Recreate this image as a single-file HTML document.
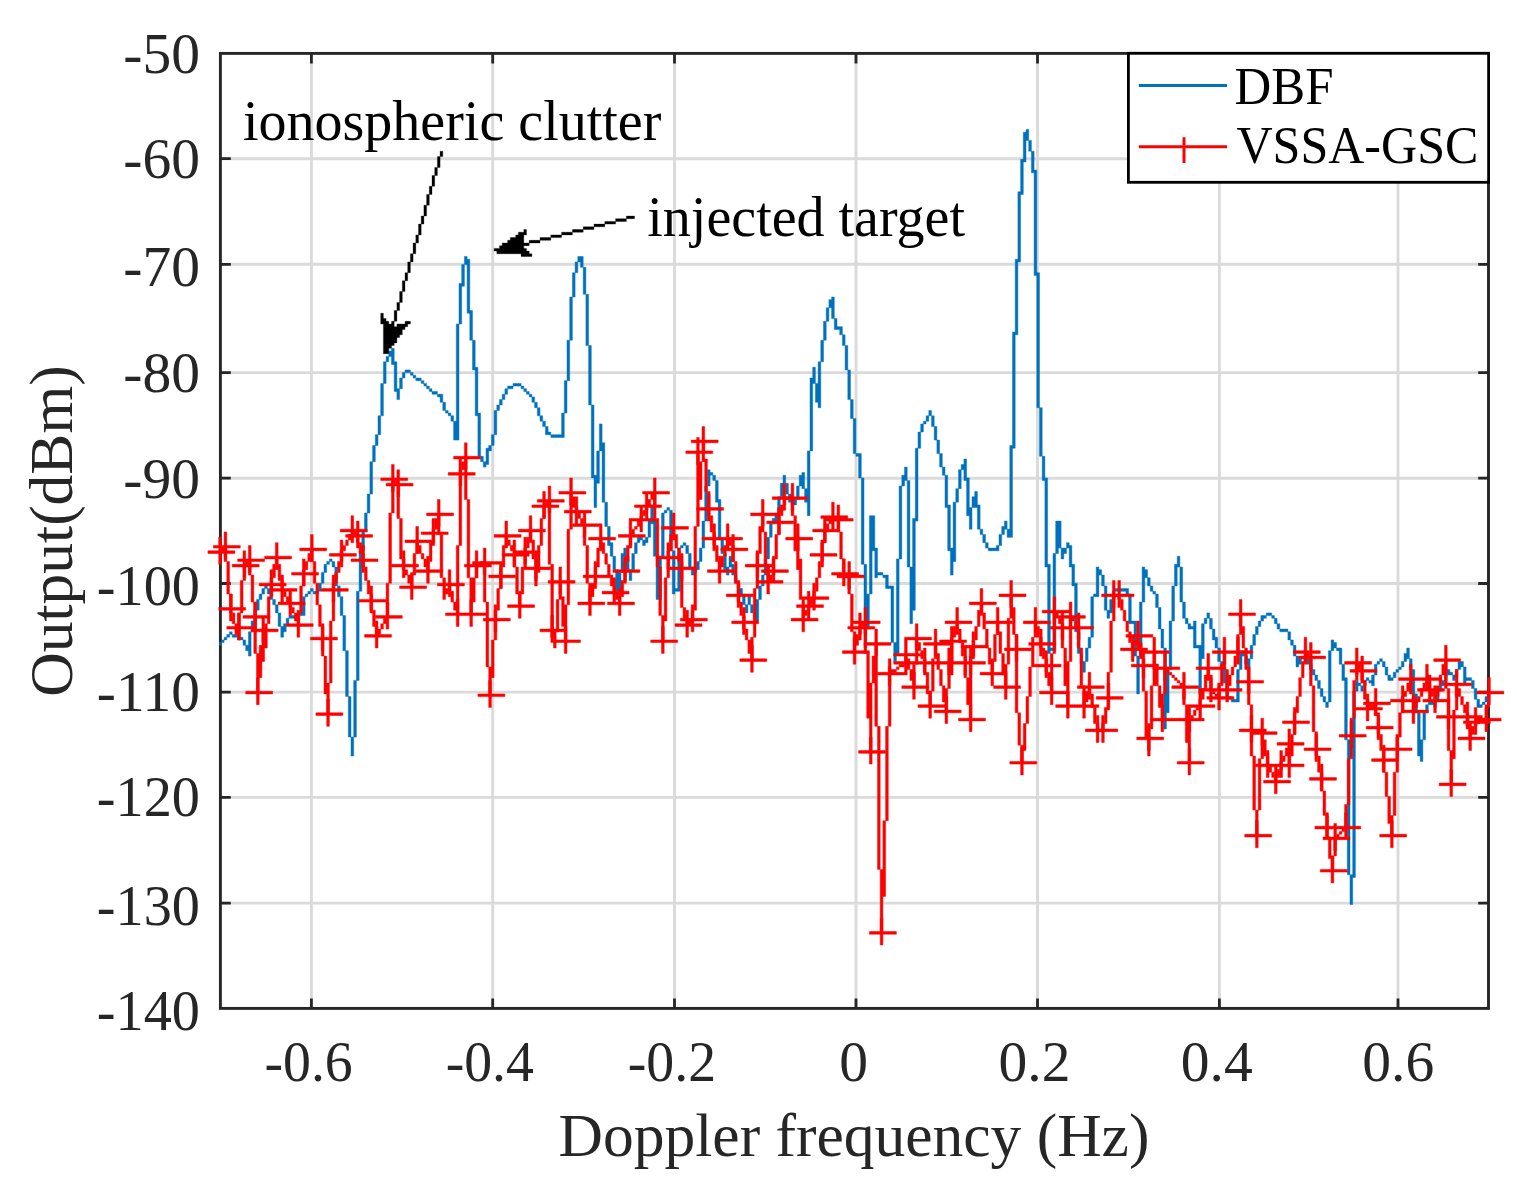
<!DOCTYPE html>
<html><head><meta charset="utf-8"><title>Doppler spectrum</title><style>html,body{margin:0;padding:0;background:#fff}svg{display:block}</style></head><body>
<svg width="1517" height="1179" viewBox="0 0 1517 1179">
<rect width="1517" height="1179" fill="#fff"/>
<path d="M311.4 53.4V1008.4M492.7 53.4V1008.4M674.5 53.4V1008.4M856.0 53.4V1008.4M1037.5 53.4V1008.4M1219.4 53.4V1008.4M1398.0 53.4V1008.4M220.4 158.7H1488.6M220.4 264.3H1488.6M220.4 372.6H1488.6M220.4 478.2H1488.6M220.4 583.5H1488.6M220.4 692.1H1488.6M220.4 797.4H1488.6M220.4 903.1H1488.6" stroke="#dadada" stroke-width="2.9" fill="none"/>
<path d="M311.4 1008.4v-10M311.4 53.4v10M492.7 1008.4v-10M492.7 53.4v10M674.5 1008.4v-10M674.5 53.4v10M856.0 1008.4v-10M856.0 53.4v10M1037.5 1008.4v-10M1037.5 53.4v10M1219.4 1008.4v-10M1219.4 53.4v10M1398.0 1008.4v-10M1398.0 53.4v10M220.4 158.7h10.4M1488.6 158.7h-10.4M220.4 264.3h10.4M1488.6 264.3h-10.4M220.4 372.6h10.4M1488.6 372.6h-10.4M220.4 478.2h10.4M1488.6 478.2h-10.4M220.4 583.5h10.4M1488.6 583.5h-10.4M220.4 692.1h10.4M1488.6 692.1h-10.4M220.4 797.4h10.4M1488.6 797.4h-10.4M220.4 903.1h10.4M1488.6 903.1h-10.4" stroke="#262626" stroke-width="2.8" fill="none"/>
<rect x="220.4" y="53.4" width="1268.1" height="955.0" stroke="#262626" stroke-width="2.9" fill="none"/>
<defs><clipPath id="c"><rect x="218.9" y="51.9" width="1271.1" height="958.0"/></clipPath></defs>
<g clip-path="url(#c)">
<path d="M218.7 642.6h2.7v2.7h-2.7zM221.4 639.9h2.7v2.7h-2.7zM224.1 637.2h2.7v2.7h-2.7zM226.8 634.5h2.7v2.7h-2.7zM229.5 631.8h2.7v2.7h-2.7zM232.2 634.5h2.7v2.7h-2.7zM234.9 634.5h2.7v2.7h-2.7zM237.6 637.2h2.7v2.7h-2.7zM240.3 637.2h2.7v2.7h-2.7zM243.0 639.9h2.7v5.4h-2.7zM245.7 645.3h2.7v5.4h-2.7zM248.4 631.8h2.7v24.3h-2.7zM251.1 621.0h2.7v10.8h-2.7zM253.8 610.2h2.7v10.8h-2.7zM256.5 599.4h2.7v10.8h-2.7zM259.2 594.0h2.7v5.4h-2.7zM261.9 588.6h2.7v5.4h-2.7zM264.6 585.9h2.7v2.7h-2.7zM267.3 588.6h2.7v5.4h-2.7zM270.0 594.0h2.7v5.4h-2.7zM272.7 599.4h2.7v5.4h-2.7zM275.4 604.8h2.7v8.1h-2.7zM278.1 612.9h2.7v13.5h-2.7zM280.8 626.4h2.7v10.8h-2.7zM283.5 623.7h2.7v8.1h-2.7zM286.2 618.3h2.7v5.4h-2.7zM288.9 615.6h2.7v2.7h-2.7zM291.6 615.6h2.7v2.7h-2.7zM294.3 615.6h2.7v2.7h-2.7zM297.0 615.6h2.7v2.7h-2.7zM299.7 612.9h2.7v2.7h-2.7zM302.4 596.7h2.7v18.9h-2.7zM305.1 594.0h2.7v2.7h-2.7zM307.8 591.3h2.7v2.7h-2.7zM310.5 588.6h2.7v2.7h-2.7zM313.2 591.3h2.7v2.7h-2.7zM315.9 591.3h2.7v2.7h-2.7zM318.6 583.2h2.7v8.1h-2.7zM321.3 572.4h2.7v10.8h-2.7zM324.0 564.3h2.7v8.1h-2.7zM326.7 561.6h2.7v2.7h-2.7zM329.4 558.9h2.7v2.7h-2.7zM332.1 561.6h2.7v5.4h-2.7zM334.8 567.0h2.7v18.9h-2.7zM337.5 585.9h2.7v10.8h-2.7zM340.2 596.7h2.7v18.9h-2.7zM342.9 615.6h2.7v35.1h-2.7zM345.6 650.7h2.7v45.9h-2.7zM348.3 696.6h2.7v40.5h-2.7zM351.0 737.1h2.7v18.9h-2.7zM353.7 680.4h2.7v56.7h-2.7zM356.4 591.3h2.7v89.1h-2.7zM359.1 550.8h2.7v40.5h-2.7zM361.8 531.9h2.7v18.9h-2.7zM364.5 513.0h2.7v18.9h-2.7zM367.2 494.1h2.7v18.9h-2.7zM369.9 461.7h2.7v32.4h-2.7zM372.6 445.5h2.7v16.2h-2.7zM375.3 434.7h2.7v10.8h-2.7zM378.0 415.8h2.7v18.9h-2.7zM380.7 383.4h2.7v32.4h-2.7zM383.4 361.8h2.7v21.6h-2.7zM386.1 356.4h2.7v5.4h-2.7zM388.8 351.0h2.7v5.4h-2.7zM391.5 348.3h2.7v16.2h-2.7zM394.2 361.8h2.7v29.7h-2.7zM396.9 388.8h2.7v10.8h-2.7zM399.6 378.0h2.7v10.8h-2.7zM402.3 372.6h2.7v5.4h-2.7zM405.0 369.9h2.7v2.7h-2.7zM407.7 369.9h2.7v2.7h-2.7zM410.4 372.6h2.7v2.7h-2.7zM413.1 375.3h2.7v2.7h-2.7zM415.8 378.0h2.7v2.7h-2.7zM418.5 378.0h2.7v2.7h-2.7zM421.2 380.7h2.7v2.7h-2.7zM423.9 383.4h2.7v2.7h-2.7zM426.6 386.1h2.7v2.7h-2.7zM429.3 388.8h2.7v2.7h-2.7zM432.0 391.5h2.7v2.7h-2.7zM434.7 391.5h2.7v2.7h-2.7zM437.4 394.2h2.7v2.7h-2.7zM440.1 394.2h2.7v8.1h-2.7zM442.8 402.3h2.7v8.1h-2.7zM445.5 410.4h2.7v2.7h-2.7zM448.2 413.1h2.7v2.7h-2.7zM450.9 415.8h2.7v5.4h-2.7zM453.6 421.2h2.7v18.9h-2.7zM456.3 324.0h2.7v116.1h-2.7zM459.0 283.5h2.7v40.5h-2.7zM461.7 264.6h2.7v21.6h-2.7zM464.4 256.5h2.7v8.1h-2.7zM467.1 259.2h2.7v54.0h-2.7zM469.8 310.5h2.7v29.7h-2.7zM472.5 340.2h2.7v29.7h-2.7zM475.2 367.2h2.7v48.6h-2.7zM477.9 413.1h2.7v43.2h-2.7zM480.6 456.3h2.7v5.4h-2.7zM483.3 461.7h2.7v5.4h-2.7zM486.0 448.2h2.7v16.2h-2.7zM488.7 445.5h2.7v5.4h-2.7zM491.4 434.7h2.7v10.8h-2.7zM494.1 410.4h2.7v24.3h-2.7zM496.8 405.0h2.7v5.4h-2.7zM499.5 399.6h2.7v5.4h-2.7zM502.2 394.2h2.7v5.4h-2.7zM504.9 388.8h2.7v5.4h-2.7zM507.6 386.1h2.7v2.7h-2.7zM510.3 386.1h2.7v2.7h-2.7zM513.0 383.4h2.7v2.7h-2.7zM515.7 383.4h2.7v2.7h-2.7zM518.4 383.4h2.7v2.7h-2.7zM521.1 386.1h2.7v2.7h-2.7zM523.8 388.8h2.7v2.7h-2.7zM526.5 391.5h2.7v2.7h-2.7zM529.2 394.2h2.7v2.7h-2.7zM531.9 396.9h2.7v5.4h-2.7zM534.6 402.3h2.7v5.4h-2.7zM537.3 407.7h2.7v8.1h-2.7zM540.0 415.8h2.7v5.4h-2.7zM542.7 421.2h2.7v5.4h-2.7zM545.4 426.6h2.7v8.1h-2.7zM548.1 432.0h2.7v2.7h-2.7zM550.8 434.7h2.7v2.7h-2.7zM553.5 434.7h2.7v2.7h-2.7zM556.2 434.7h2.7v2.7h-2.7zM558.9 434.7h2.7v2.7h-2.7zM561.6 413.1h2.7v24.3h-2.7zM564.3 380.7h2.7v32.4h-2.7zM567.0 340.2h2.7v40.5h-2.7zM569.7 297.0h2.7v43.2h-2.7zM572.4 272.7h2.7v24.3h-2.7zM575.1 261.9h2.7v10.8h-2.7zM577.8 256.5h2.7v5.4h-2.7zM580.5 256.5h2.7v10.8h-2.7zM583.2 267.3h2.7v27.0h-2.7zM585.9 294.3h2.7v51.3h-2.7zM588.6 345.6h2.7v59.4h-2.7zM591.3 405.0h2.7v72.9h-2.7zM594.0 475.2h2.7v32.4h-2.7zM596.7 450.9h2.7v32.4h-2.7zM599.4 423.9h2.7v27.0h-2.7zM602.1 442.8h2.7v59.4h-2.7zM604.8 502.2h2.7v24.3h-2.7zM607.5 526.5h2.7v18.9h-2.7zM610.2 542.7h2.7v13.5h-2.7zM612.9 556.2h2.7v13.5h-2.7zM615.6 569.7h2.7v21.6h-2.7zM618.3 572.4h2.7v18.9h-2.7zM621.0 553.5h2.7v18.9h-2.7zM623.7 548.1h2.7v8.1h-2.7zM626.4 556.2h2.7v13.5h-2.7zM629.1 569.7h2.7v10.8h-2.7zM631.8 553.5h2.7v16.2h-2.7zM634.5 542.7h2.7v10.8h-2.7zM637.2 537.3h2.7v5.4h-2.7zM639.9 537.3h2.7v2.7h-2.7zM642.6 540.0h2.7v5.4h-2.7zM645.3 537.3h2.7v5.4h-2.7zM648.0 521.1h2.7v16.2h-2.7zM650.7 504.9h2.7v18.9h-2.7zM653.4 521.1h2.7v35.1h-2.7zM656.1 556.2h2.7v43.2h-2.7zM658.8 556.2h2.7v43.2h-2.7zM661.5 513.0h2.7v43.2h-2.7zM664.2 510.3h2.7v2.7h-2.7zM666.9 507.6h2.7v2.7h-2.7zM669.6 510.3h2.7v40.5h-2.7zM672.3 550.8h2.7v43.2h-2.7zM675.0 588.6h2.7v2.7h-2.7zM677.7 548.1h2.7v43.2h-2.7zM680.4 545.4h2.7v2.7h-2.7zM683.1 542.7h2.7v2.7h-2.7zM685.8 545.4h2.7v8.1h-2.7zM688.5 553.5h2.7v13.5h-2.7zM691.2 567.0h2.7v8.1h-2.7zM693.9 569.7h2.7v2.7h-2.7zM696.6 561.6h2.7v8.1h-2.7zM699.3 548.1h2.7v13.5h-2.7zM702.0 521.1h2.7v27.0h-2.7zM704.7 486.0h2.7v35.1h-2.7zM707.4 469.8h2.7v16.2h-2.7zM710.1 472.5h2.7v2.7h-2.7zM712.8 475.2h2.7v5.4h-2.7zM715.5 480.6h2.7v21.6h-2.7zM718.2 499.5h2.7v40.5h-2.7zM720.9 540.0h2.7v13.5h-2.7zM723.6 553.5h2.7v16.2h-2.7zM726.3 567.0h2.7v8.1h-2.7zM729.0 556.2h2.7v10.8h-2.7zM731.7 564.3h2.7v10.8h-2.7zM734.4 575.1h2.7v8.1h-2.7zM737.1 583.2h2.7v5.4h-2.7zM739.8 588.6h2.7v5.4h-2.7zM742.5 594.0h2.7v10.8h-2.7zM745.2 604.8h2.7v8.1h-2.7zM747.9 596.7h2.7v8.1h-2.7zM750.6 604.8h2.7v8.1h-2.7zM753.3 612.9h2.7v5.4h-2.7zM756.0 599.4h2.7v21.6h-2.7zM758.7 585.9h2.7v13.5h-2.7zM761.4 575.1h2.7v10.8h-2.7zM764.1 558.9h2.7v16.2h-2.7zM766.8 537.3h2.7v21.6h-2.7zM769.5 523.8h2.7v13.5h-2.7zM772.2 518.4h2.7v5.4h-2.7zM774.9 513.0h2.7v8.1h-2.7zM777.6 496.8h2.7v16.2h-2.7zM780.3 483.3h2.7v13.5h-2.7zM783.0 475.2h2.7v8.1h-2.7zM785.7 483.3h2.7v10.8h-2.7zM788.4 494.1h2.7v8.1h-2.7zM791.1 502.2h2.7v2.7h-2.7zM793.8 499.5h2.7v5.4h-2.7zM796.5 486.0h2.7v13.5h-2.7zM799.2 475.2h2.7v10.8h-2.7zM801.9 472.5h2.7v16.2h-2.7zM804.6 488.7h2.7v13.5h-2.7zM807.3 450.9h2.7v64.8h-2.7zM810.0 378.0h2.7v72.9h-2.7zM812.7 367.2h2.7v16.2h-2.7zM815.4 383.4h2.7v18.9h-2.7zM818.1 361.8h2.7v45.9h-2.7zM820.8 340.2h2.7v21.6h-2.7zM823.5 321.3h2.7v18.9h-2.7zM826.2 307.8h2.7v13.5h-2.7zM828.9 299.7h2.7v8.1h-2.7zM831.6 297.0h2.7v21.6h-2.7zM834.3 318.6h2.7v10.8h-2.7zM837.0 326.7h2.7v2.7h-2.7zM839.7 326.7h2.7v8.1h-2.7zM842.4 334.8h2.7v10.8h-2.7zM845.1 345.6h2.7v24.3h-2.7zM847.8 369.9h2.7v29.7h-2.7zM850.5 399.6h2.7v18.9h-2.7zM853.2 418.5h2.7v35.1h-2.7zM855.9 453.6h2.7v2.7h-2.7zM858.6 453.6h2.7v24.3h-2.7zM861.3 477.9h2.7v86.4h-2.7zM864.0 564.3h2.7v83.7h-2.7zM866.7 594.0h2.7v35.1h-2.7zM869.4 515.7h2.7v78.3h-2.7zM872.1 515.7h2.7v35.1h-2.7zM874.8 548.1h2.7v29.7h-2.7zM877.5 572.4h2.7v2.7h-2.7zM880.2 572.4h2.7v2.7h-2.7zM882.9 575.1h2.7v2.7h-2.7zM885.6 575.1h2.7v13.5h-2.7zM888.3 585.9h2.7v2.7h-2.7zM891.0 585.9h2.7v56.7h-2.7zM893.7 642.6h2.7v18.9h-2.7zM896.4 558.9h2.7v94.5h-2.7zM899.1 486.0h2.7v72.9h-2.7zM901.8 475.2h2.7v10.8h-2.7zM904.5 467.1h2.7v13.5h-2.7zM907.2 480.6h2.7v86.4h-2.7zM909.9 567.0h2.7v56.7h-2.7zM912.6 518.4h2.7v91.8h-2.7zM915.3 448.2h2.7v72.9h-2.7zM918.0 432.0h2.7v16.2h-2.7zM920.7 423.9h2.7v8.1h-2.7zM923.4 421.2h2.7v2.7h-2.7zM926.1 415.8h2.7v5.4h-2.7zM928.8 410.4h2.7v5.4h-2.7zM931.5 415.8h2.7v10.8h-2.7zM934.2 426.6h2.7v13.5h-2.7zM936.9 440.1h2.7v13.5h-2.7zM939.6 453.6h2.7v13.5h-2.7zM942.3 467.1h2.7v8.1h-2.7zM945.0 475.2h2.7v32.4h-2.7zM947.7 504.9h2.7v45.9h-2.7zM950.4 548.1h2.7v27.0h-2.7zM953.1 502.2h2.7v59.4h-2.7zM955.8 488.7h2.7v13.5h-2.7zM958.5 469.8h2.7v18.9h-2.7zM961.2 464.4h2.7v5.4h-2.7zM963.9 459.0h2.7v21.6h-2.7zM966.6 477.9h2.7v37.8h-2.7zM969.3 507.6h2.7v21.6h-2.7zM972.0 496.8h2.7v10.8h-2.7zM974.7 491.4h2.7v16.2h-2.7zM977.4 504.9h2.7v24.3h-2.7zM980.1 529.2h2.7v5.4h-2.7zM982.8 534.6h2.7v8.1h-2.7zM985.5 542.7h2.7v5.4h-2.7zM988.2 548.1h2.7v2.7h-2.7zM990.9 548.1h2.7v2.7h-2.7zM993.6 548.1h2.7v2.7h-2.7zM996.3 545.4h2.7v5.4h-2.7zM999.0 534.6h2.7v10.8h-2.7zM1001.7 526.5h2.7v8.1h-2.7zM1004.4 521.1h2.7v8.1h-2.7zM1007.1 529.2h2.7v8.1h-2.7zM1009.8 445.5h2.7v91.8h-2.7zM1012.5 332.1h2.7v116.1h-2.7zM1015.2 259.2h2.7v75.6h-2.7zM1017.9 191.7h2.7v70.2h-2.7zM1020.6 159.3h2.7v35.1h-2.7zM1023.3 132.3h2.7v29.7h-2.7zM1026.0 129.6h2.7v10.8h-2.7zM1028.7 140.4h2.7v10.8h-2.7zM1031.4 151.2h2.7v21.6h-2.7zM1034.1 170.1h2.7v105.3h-2.7zM1036.8 272.7h2.7v135.0h-2.7zM1039.5 407.7h2.7v48.6h-2.7zM1042.2 456.3h2.7v24.3h-2.7zM1044.9 477.9h2.7v89.1h-2.7zM1047.6 564.3h2.7v89.1h-2.7zM1050.3 648.0h2.7v2.7h-2.7zM1053.0 553.5h2.7v97.2h-2.7zM1055.7 521.1h2.7v32.4h-2.7zM1058.4 521.1h2.7v27.0h-2.7zM1061.1 548.1h2.7v10.8h-2.7zM1063.8 548.1h2.7v5.4h-2.7zM1066.5 542.7h2.7v5.4h-2.7zM1069.2 545.4h2.7v21.6h-2.7zM1071.9 564.3h2.7v21.6h-2.7zM1074.6 583.2h2.7v48.6h-2.7zM1077.3 631.8h2.7v21.6h-2.7zM1080.0 653.4h2.7v10.8h-2.7zM1082.7 661.5h2.7v10.8h-2.7zM1085.4 648.0h2.7v13.5h-2.7zM1088.1 637.2h2.7v10.8h-2.7zM1090.8 596.7h2.7v40.5h-2.7zM1093.5 594.0h2.7v2.7h-2.7zM1096.2 567.0h2.7v29.7h-2.7zM1098.9 569.7h2.7v5.4h-2.7zM1101.6 575.1h2.7v10.8h-2.7zM1104.3 585.9h2.7v24.3h-2.7zM1107.0 610.2h2.7v8.1h-2.7zM1109.7 599.4h2.7v13.5h-2.7zM1112.4 591.3h2.7v8.1h-2.7zM1115.1 588.6h2.7v2.7h-2.7zM1117.8 588.6h2.7v2.7h-2.7zM1120.5 588.6h2.7v2.7h-2.7zM1123.2 588.6h2.7v2.7h-2.7zM1125.9 588.6h2.7v5.4h-2.7zM1128.6 594.0h2.7v29.7h-2.7zM1131.3 621.0h2.7v2.7h-2.7zM1134.0 621.0h2.7v35.1h-2.7zM1136.7 656.1h2.7v37.8h-2.7zM1139.4 602.1h2.7v54.0h-2.7zM1142.1 567.0h2.7v35.1h-2.7zM1144.8 569.7h2.7v8.1h-2.7zM1147.5 577.8h2.7v8.1h-2.7zM1150.2 585.9h2.7v5.4h-2.7zM1152.9 591.3h2.7v2.7h-2.7zM1155.6 594.0h2.7v13.5h-2.7zM1158.3 607.5h2.7v21.6h-2.7zM1161.0 629.1h2.7v18.9h-2.7zM1163.7 648.0h2.7v81.0h-2.7zM1166.4 669.6h2.7v43.2h-2.7zM1169.1 621.0h2.7v48.6h-2.7zM1171.8 585.9h2.7v35.1h-2.7zM1174.5 564.3h2.7v21.6h-2.7zM1177.2 556.2h2.7v10.8h-2.7zM1179.9 567.0h2.7v35.1h-2.7zM1182.6 602.1h2.7v16.2h-2.7zM1185.3 618.3h2.7v5.4h-2.7zM1188.0 623.7h2.7v5.4h-2.7zM1190.7 626.4h2.7v2.7h-2.7zM1193.4 621.0h2.7v27.0h-2.7zM1196.1 645.3h2.7v2.7h-2.7zM1198.8 645.3h2.7v48.6h-2.7zM1201.5 623.7h2.7v35.1h-2.7zM1204.2 618.3h2.7v5.4h-2.7zM1206.9 612.9h2.7v5.4h-2.7zM1209.6 618.3h2.7v10.8h-2.7zM1212.3 629.1h2.7v10.8h-2.7zM1215.0 637.2h2.7v10.8h-2.7zM1217.7 648.0h2.7v13.5h-2.7zM1220.4 661.5h2.7v5.4h-2.7zM1223.1 666.9h2.7v16.2h-2.7zM1225.8 683.1h2.7v13.5h-2.7zM1228.5 696.6h2.7v2.7h-2.7zM1231.2 699.3h2.7v2.7h-2.7zM1233.9 699.3h2.7v2.7h-2.7zM1236.6 669.6h2.7v32.4h-2.7zM1239.3 650.7h2.7v18.9h-2.7zM1242.0 650.7h2.7v5.4h-2.7zM1244.7 656.1h2.7v8.1h-2.7zM1247.4 658.8h2.7v10.8h-2.7zM1250.1 645.3h2.7v13.5h-2.7zM1252.8 634.5h2.7v10.8h-2.7zM1255.5 626.4h2.7v8.1h-2.7zM1258.2 621.0h2.7v5.4h-2.7zM1260.9 615.6h2.7v5.4h-2.7zM1263.6 615.6h2.7v2.7h-2.7zM1266.3 612.9h2.7v2.7h-2.7zM1269.0 612.9h2.7v2.7h-2.7zM1271.7 615.6h2.7v2.7h-2.7zM1274.4 618.3h2.7v5.4h-2.7zM1277.1 623.7h2.7v5.4h-2.7zM1279.8 629.1h2.7v2.7h-2.7zM1282.5 629.1h2.7v2.7h-2.7zM1285.2 629.1h2.7v2.7h-2.7zM1287.9 631.8h2.7v8.1h-2.7zM1290.6 639.9h2.7v5.4h-2.7zM1293.3 645.3h2.7v10.8h-2.7zM1296.0 656.1h2.7v10.8h-2.7zM1298.7 658.8h2.7v5.4h-2.7zM1301.4 656.1h2.7v2.7h-2.7zM1304.1 656.1h2.7v2.7h-2.7zM1306.8 658.8h2.7v5.4h-2.7zM1309.5 664.2h2.7v5.4h-2.7zM1312.2 669.6h2.7v5.4h-2.7zM1314.9 675.0h2.7v5.4h-2.7zM1317.6 680.4h2.7v8.1h-2.7zM1320.3 688.5h2.7v8.1h-2.7zM1323.0 696.6h2.7v5.4h-2.7zM1325.7 702.0h2.7v5.4h-2.7zM1328.4 650.7h2.7v51.3h-2.7zM1331.1 639.9h2.7v10.8h-2.7zM1333.8 642.6h2.7v5.4h-2.7zM1336.5 648.0h2.7v2.7h-2.7zM1339.2 648.0h2.7v16.2h-2.7zM1341.9 664.2h2.7v16.2h-2.7zM1344.6 677.7h2.7v62.1h-2.7zM1347.3 739.8h2.7v135.0h-2.7zM1350.0 874.8h2.7v29.7h-2.7zM1352.7 691.2h2.7v186.3h-2.7zM1355.4 680.4h2.7v10.8h-2.7zM1358.1 683.1h2.7v2.7h-2.7zM1360.8 685.8h2.7v5.4h-2.7zM1363.5 680.4h2.7v5.4h-2.7zM1366.2 677.7h2.7v2.7h-2.7zM1368.9 680.4h2.7v2.7h-2.7zM1371.6 675.0h2.7v10.8h-2.7zM1374.3 664.2h2.7v10.8h-2.7zM1377.0 661.5h2.7v2.7h-2.7zM1379.7 658.8h2.7v2.7h-2.7zM1382.4 661.5h2.7v5.4h-2.7zM1385.1 666.9h2.7v8.1h-2.7zM1387.8 675.0h2.7v5.4h-2.7zM1390.5 677.7h2.7v2.7h-2.7zM1393.2 672.3h2.7v5.4h-2.7zM1395.9 669.6h2.7v2.7h-2.7zM1398.6 666.9h2.7v2.7h-2.7zM1401.3 661.5h2.7v5.4h-2.7zM1404.0 653.4h2.7v8.1h-2.7zM1406.7 648.0h2.7v10.8h-2.7zM1409.4 658.8h2.7v10.8h-2.7zM1412.1 669.6h2.7v24.3h-2.7zM1414.8 693.9h2.7v18.9h-2.7zM1417.5 712.8h2.7v43.2h-2.7zM1420.2 739.8h2.7v21.6h-2.7zM1422.9 712.8h2.7v27.0h-2.7zM1425.6 704.7h2.7v8.1h-2.7zM1428.3 702.0h2.7v2.7h-2.7zM1431.0 702.0h2.7v2.7h-2.7zM1433.7 702.0h2.7v5.4h-2.7zM1436.4 691.2h2.7v10.8h-2.7zM1439.1 685.8h2.7v5.4h-2.7zM1441.8 680.4h2.7v5.4h-2.7zM1444.5 675.0h2.7v5.4h-2.7zM1447.2 669.6h2.7v5.4h-2.7zM1449.9 672.3h2.7v2.7h-2.7zM1452.6 675.0h2.7v5.4h-2.7zM1455.3 669.6h2.7v8.1h-2.7zM1458.0 661.5h2.7v8.1h-2.7zM1460.7 661.5h2.7v5.4h-2.7zM1463.4 666.9h2.7v16.2h-2.7zM1466.1 677.7h2.7v2.7h-2.7zM1468.8 677.7h2.7v2.7h-2.7zM1471.5 680.4h2.7v8.1h-2.7zM1474.2 688.5h2.7v10.8h-2.7zM1476.9 699.3h2.7v8.1h-2.7zM1479.6 704.7h2.7v2.7h-2.7zM1482.3 702.0h2.7v2.7h-2.7zM1485.0 696.6h2.7v5.4h-2.7zM1487.7 696.6h2.7v2.7h-2.7z" fill="#0072BD" stroke="#0072BD" stroke-width="0.45"/>
<path d="M218.7 550.8h2.7v2.7h-2.7zM221.4 548.1h2.7v2.7h-2.7zM224.1 545.4h2.7v16.2h-2.7zM226.8 561.6h2.7v32.4h-2.7zM229.5 594.0h2.7v18.9h-2.7zM232.2 612.9h2.7v10.8h-2.7zM234.9 623.7h2.7v10.8h-2.7zM237.6 612.9h2.7v27.0h-2.7zM240.3 580.5h2.7v32.4h-2.7zM243.0 564.3h2.7v16.2h-2.7zM245.7 561.6h2.7v2.7h-2.7zM248.4 558.9h2.7v16.2h-2.7zM251.1 575.1h2.7v27.0h-2.7zM253.8 602.1h2.7v51.3h-2.7zM256.5 653.4h2.7v40.5h-2.7zM259.2 645.3h2.7v32.4h-2.7zM261.9 629.1h2.7v32.4h-2.7zM264.6 623.7h2.7v24.3h-2.7zM267.3 596.7h2.7v27.0h-2.7zM270.0 577.8h2.7v18.9h-2.7zM272.7 564.3h2.7v13.5h-2.7zM275.4 556.2h2.7v8.1h-2.7zM278.1 564.3h2.7v16.2h-2.7zM280.8 580.5h2.7v10.8h-2.7zM283.5 591.3h2.7v5.4h-2.7zM286.2 596.7h2.7v5.4h-2.7zM288.9 602.1h2.7v5.4h-2.7zM291.6 607.5h2.7v5.4h-2.7zM294.3 612.9h2.7v8.1h-2.7zM297.0 612.9h2.7v13.5h-2.7zM299.7 585.9h2.7v27.0h-2.7zM302.4 569.7h2.7v16.2h-2.7zM305.1 561.6h2.7v8.1h-2.7zM307.8 553.5h2.7v8.1h-2.7zM310.5 548.1h2.7v13.5h-2.7zM313.2 561.6h2.7v21.6h-2.7zM315.9 583.2h2.7v21.6h-2.7zM318.6 604.8h2.7v21.6h-2.7zM321.3 626.4h2.7v29.7h-2.7zM324.0 656.1h2.7v37.8h-2.7zM326.7 683.1h2.7v32.4h-2.7zM329.4 621.0h2.7v62.1h-2.7zM332.1 583.2h2.7v37.8h-2.7zM334.8 572.4h2.7v10.8h-2.7zM337.5 561.6h2.7v10.8h-2.7zM340.2 550.8h2.7v10.8h-2.7zM342.9 545.4h2.7v5.4h-2.7zM345.6 540.0h2.7v5.4h-2.7zM348.3 534.6h2.7v5.4h-2.7zM351.0 529.2h2.7v5.4h-2.7zM353.7 531.9h2.7v2.7h-2.7zM356.4 534.6h2.7v8.1h-2.7zM359.1 542.7h2.7v10.8h-2.7zM361.8 553.5h2.7v13.5h-2.7zM364.5 567.0h2.7v13.5h-2.7zM367.2 580.5h2.7v13.5h-2.7zM369.9 594.0h2.7v16.2h-2.7zM372.6 610.2h2.7v16.2h-2.7zM375.3 626.4h2.7v10.8h-2.7zM378.0 629.1h2.7v5.4h-2.7zM380.7 623.7h2.7v5.4h-2.7zM383.4 618.3h2.7v5.4h-2.7zM386.1 583.2h2.7v35.1h-2.7zM388.8 513.0h2.7v70.2h-2.7zM391.5 477.9h2.7v35.1h-2.7zM394.2 480.6h2.7v2.7h-2.7zM396.9 483.3h2.7v35.1h-2.7zM399.6 518.4h2.7v40.5h-2.7zM402.3 558.9h2.7v10.8h-2.7zM405.0 569.7h2.7v5.4h-2.7zM407.7 575.1h2.7v8.1h-2.7zM410.4 575.1h2.7v13.5h-2.7zM413.1 553.5h2.7v21.6h-2.7zM415.8 540.0h2.7v13.5h-2.7zM418.5 545.4h2.7v8.1h-2.7zM421.2 553.5h2.7v5.4h-2.7zM423.9 558.9h2.7v8.1h-2.7zM426.6 561.6h2.7v10.8h-2.7zM429.3 542.7h2.7v18.9h-2.7zM432.0 529.2h2.7v13.5h-2.7zM434.7 518.4h2.7v10.8h-2.7zM437.4 513.0h2.7v21.6h-2.7zM440.1 534.6h2.7v43.2h-2.7zM442.8 577.8h2.7v21.6h-2.7zM445.5 588.6h2.7v5.4h-2.7zM448.2 583.2h2.7v8.1h-2.7zM450.9 591.3h2.7v10.8h-2.7zM453.6 602.1h2.7v8.1h-2.7zM456.3 545.4h2.7v70.2h-2.7zM459.0 469.8h2.7v75.6h-2.7zM461.7 461.7h2.7v8.1h-2.7zM464.4 456.3h2.7v43.2h-2.7zM467.1 499.5h2.7v78.3h-2.7zM469.8 577.8h2.7v37.8h-2.7zM472.5 577.8h2.7v24.3h-2.7zM475.2 564.3h2.7v13.5h-2.7zM477.9 564.3h2.7v2.7h-2.7zM480.6 561.6h2.7v2.7h-2.7zM483.3 561.6h2.7v40.5h-2.7zM486.0 602.1h2.7v64.8h-2.7zM488.7 666.9h2.7v29.7h-2.7zM491.4 639.9h2.7v37.8h-2.7zM494.1 610.2h2.7v29.7h-2.7zM496.8 588.6h2.7v21.6h-2.7zM499.5 567.0h2.7v21.6h-2.7zM502.2 545.4h2.7v21.6h-2.7zM504.9 534.6h2.7v10.8h-2.7zM507.6 540.0h2.7v5.4h-2.7zM510.3 545.4h2.7v5.4h-2.7zM513.0 550.8h2.7v16.2h-2.7zM515.7 567.0h2.7v27.0h-2.7zM518.4 594.0h2.7v13.5h-2.7zM521.1 567.0h2.7v27.0h-2.7zM523.8 548.1h2.7v18.9h-2.7zM526.5 537.3h2.7v10.8h-2.7zM529.2 529.2h2.7v10.8h-2.7zM531.9 540.0h2.7v18.9h-2.7zM534.6 558.9h2.7v27.0h-2.7zM537.3 545.4h2.7v27.0h-2.7zM540.0 518.4h2.7v27.0h-2.7zM542.7 504.9h2.7v13.5h-2.7zM545.4 502.2h2.7v2.7h-2.7zM548.1 499.5h2.7v64.8h-2.7zM550.8 564.3h2.7v72.9h-2.7zM553.5 631.8h2.7v16.2h-2.7zM556.2 599.4h2.7v32.4h-2.7zM558.9 580.5h2.7v18.9h-2.7zM561.6 596.7h2.7v29.7h-2.7zM564.3 604.8h2.7v37.8h-2.7zM567.0 529.2h2.7v75.6h-2.7zM569.7 491.4h2.7v37.8h-2.7zM572.4 496.8h2.7v10.8h-2.7zM575.1 507.6h2.7v5.4h-2.7zM577.8 513.0h2.7v5.4h-2.7zM580.5 518.4h2.7v5.4h-2.7zM583.2 523.8h2.7v21.6h-2.7zM585.9 545.4h2.7v37.8h-2.7zM588.6 583.2h2.7v21.6h-2.7zM591.3 583.2h2.7v13.5h-2.7zM594.0 567.0h2.7v16.2h-2.7zM596.7 548.1h2.7v18.9h-2.7zM599.4 537.3h2.7v10.8h-2.7zM602.1 542.7h2.7v10.8h-2.7zM604.8 553.5h2.7v10.8h-2.7zM607.5 564.3h2.7v10.8h-2.7zM610.2 575.1h2.7v10.8h-2.7zM612.9 585.9h2.7v8.1h-2.7zM615.6 594.0h2.7v5.4h-2.7zM618.3 596.7h2.7v8.1h-2.7zM621.0 580.5h2.7v16.2h-2.7zM623.7 561.6h2.7v18.9h-2.7zM626.4 545.4h2.7v16.2h-2.7zM629.1 534.6h2.7v10.8h-2.7zM631.8 529.2h2.7v5.4h-2.7zM634.5 526.5h2.7v2.7h-2.7zM637.2 521.1h2.7v5.4h-2.7zM639.9 515.7h2.7v5.4h-2.7zM642.6 510.3h2.7v5.4h-2.7zM645.3 504.9h2.7v5.4h-2.7zM648.0 499.5h2.7v5.4h-2.7zM650.7 494.1h2.7v5.4h-2.7zM653.4 491.4h2.7v27.0h-2.7zM656.1 518.4h2.7v48.6h-2.7zM658.8 567.0h2.7v48.6h-2.7zM661.5 615.6h2.7v27.0h-2.7zM664.2 577.8h2.7v43.2h-2.7zM666.9 550.8h2.7v27.0h-2.7zM669.6 534.6h2.7v16.2h-2.7zM672.3 526.5h2.7v8.1h-2.7zM675.0 534.6h2.7v13.5h-2.7zM677.7 548.1h2.7v13.5h-2.7zM680.4 561.6h2.7v45.9h-2.7zM683.1 607.5h2.7v10.8h-2.7zM685.8 618.3h2.7v8.1h-2.7zM688.5 621.0h2.7v2.7h-2.7zM691.2 610.2h2.7v10.8h-2.7zM693.9 526.5h2.7v83.7h-2.7zM696.6 450.9h2.7v75.6h-2.7zM699.3 461.7h2.7v37.8h-2.7zM702.0 440.1h2.7v21.6h-2.7zM704.7 459.0h2.7v32.4h-2.7zM707.4 491.4h2.7v24.3h-2.7zM710.1 515.7h2.7v16.2h-2.7zM712.8 531.9h2.7v13.5h-2.7zM715.5 545.4h2.7v16.2h-2.7zM718.2 561.6h2.7v10.8h-2.7zM720.9 556.2h2.7v10.8h-2.7zM723.6 545.4h2.7v10.8h-2.7zM726.3 537.3h2.7v8.1h-2.7zM729.0 540.0h2.7v5.4h-2.7zM731.7 545.4h2.7v16.2h-2.7zM734.4 561.6h2.7v21.6h-2.7zM737.1 583.2h2.7v18.9h-2.7zM739.8 602.1h2.7v13.5h-2.7zM742.5 615.6h2.7v13.5h-2.7zM745.2 629.1h2.7v10.8h-2.7zM747.9 639.9h2.7v13.5h-2.7zM750.6 637.2h2.7v24.3h-2.7zM753.3 588.6h2.7v48.6h-2.7zM756.0 553.5h2.7v35.1h-2.7zM758.7 526.5h2.7v27.0h-2.7zM761.4 513.0h2.7v18.9h-2.7zM764.1 531.9h2.7v32.4h-2.7zM766.8 564.3h2.7v18.9h-2.7zM769.5 575.1h2.7v5.4h-2.7zM772.2 558.9h2.7v16.2h-2.7zM774.9 534.6h2.7v24.3h-2.7zM777.6 515.7h2.7v18.9h-2.7zM780.3 504.9h2.7v10.8h-2.7zM783.0 496.8h2.7v8.1h-2.7zM785.7 496.8h2.7v2.7h-2.7zM788.4 496.8h2.7v2.7h-2.7zM791.1 496.8h2.7v18.9h-2.7zM793.8 515.7h2.7v35.1h-2.7zM796.5 537.3h2.7v32.4h-2.7zM799.2 558.9h2.7v40.5h-2.7zM801.9 599.4h2.7v21.6h-2.7zM804.6 610.2h2.7v5.4h-2.7zM807.3 604.8h2.7v5.4h-2.7zM810.0 599.4h2.7v5.4h-2.7zM812.7 591.3h2.7v8.1h-2.7zM815.4 577.8h2.7v13.5h-2.7zM818.1 561.6h2.7v16.2h-2.7zM820.8 542.7h2.7v18.9h-2.7zM823.5 529.2h2.7v13.5h-2.7zM826.2 523.8h2.7v5.4h-2.7zM828.9 518.4h2.7v5.4h-2.7zM831.6 515.7h2.7v2.7h-2.7zM834.3 518.4h2.7v2.7h-2.7zM837.0 518.4h2.7v13.5h-2.7zM839.7 531.9h2.7v27.0h-2.7zM842.4 558.9h2.7v16.2h-2.7zM845.1 575.1h2.7v2.7h-2.7zM847.8 575.1h2.7v18.9h-2.7zM850.5 594.0h2.7v37.8h-2.7zM853.2 631.8h2.7v21.6h-2.7zM855.9 634.5h2.7v10.8h-2.7zM858.6 626.4h2.7v8.1h-2.7zM861.3 623.7h2.7v2.7h-2.7zM864.0 621.0h2.7v32.4h-2.7zM866.7 653.4h2.7v64.8h-2.7zM869.4 683.1h2.7v70.2h-2.7zM872.1 656.1h2.7v27.0h-2.7zM874.8 642.6h2.7v83.7h-2.7zM877.5 726.3h2.7v143.1h-2.7zM880.2 869.4h2.7v64.8h-2.7zM882.9 820.8h2.7v75.6h-2.7zM885.6 726.3h2.7v94.5h-2.7zM888.3 666.9h2.7v59.4h-2.7zM891.0 669.6h2.7v2.7h-2.7zM893.7 669.6h2.7v2.7h-2.7zM896.4 666.9h2.7v2.7h-2.7zM899.1 664.2h2.7v2.7h-2.7zM901.8 664.2h2.7v2.7h-2.7zM904.5 653.4h2.7v10.8h-2.7zM907.2 658.8h2.7v10.8h-2.7zM909.9 669.6h2.7v10.8h-2.7zM912.6 664.2h2.7v24.3h-2.7zM915.3 637.2h2.7v27.0h-2.7zM918.0 642.6h2.7v8.1h-2.7zM920.7 650.7h2.7v8.1h-2.7zM923.4 658.8h2.7v13.5h-2.7zM926.1 672.3h2.7v21.6h-2.7zM928.8 691.2h2.7v16.2h-2.7zM931.5 658.8h2.7v32.4h-2.7zM934.2 642.6h2.7v16.2h-2.7zM936.9 653.4h2.7v16.2h-2.7zM939.6 669.6h2.7v16.2h-2.7zM942.3 685.8h2.7v16.2h-2.7zM945.0 688.5h2.7v24.3h-2.7zM947.7 661.5h2.7v27.0h-2.7zM950.4 637.2h2.7v27.0h-2.7zM953.1 626.4h2.7v10.8h-2.7zM955.8 621.0h2.7v8.1h-2.7zM958.5 629.1h2.7v13.5h-2.7zM961.2 642.6h2.7v13.5h-2.7zM963.9 656.1h2.7v21.6h-2.7zM966.6 677.7h2.7v27.0h-2.7zM969.3 656.1h2.7v64.8h-2.7zM972.0 639.9h2.7v16.2h-2.7zM974.7 626.4h2.7v13.5h-2.7zM977.4 610.2h2.7v16.2h-2.7zM980.1 602.1h2.7v10.8h-2.7zM982.8 612.9h2.7v16.2h-2.7zM985.5 629.1h2.7v18.9h-2.7zM988.2 648.0h2.7v16.2h-2.7zM990.9 661.5h2.7v13.5h-2.7zM993.6 634.5h2.7v27.0h-2.7zM996.3 621.0h2.7v13.5h-2.7zM999.0 631.8h2.7v21.6h-2.7zM1001.7 653.4h2.7v21.6h-2.7zM1004.4 664.2h2.7v24.3h-2.7zM1007.1 618.3h2.7v45.9h-2.7zM1009.8 594.0h2.7v24.3h-2.7zM1012.5 607.5h2.7v27.0h-2.7zM1015.2 634.5h2.7v78.3h-2.7zM1017.9 712.8h2.7v32.4h-2.7zM1020.6 745.2h2.7v18.9h-2.7zM1023.3 723.6h2.7v27.0h-2.7zM1026.0 696.6h2.7v27.0h-2.7zM1028.7 666.9h2.7v29.7h-2.7zM1031.4 637.2h2.7v29.7h-2.7zM1034.1 621.0h2.7v16.2h-2.7zM1036.8 626.4h2.7v10.8h-2.7zM1039.5 637.2h2.7v10.8h-2.7zM1042.2 648.0h2.7v10.8h-2.7zM1044.9 658.8h2.7v13.5h-2.7zM1047.6 672.3h2.7v13.5h-2.7zM1050.3 653.4h2.7v40.5h-2.7zM1053.0 610.2h2.7v43.2h-2.7zM1055.7 612.9h2.7v5.4h-2.7zM1058.4 618.3h2.7v5.4h-2.7zM1061.1 623.7h2.7v24.3h-2.7zM1063.8 648.0h2.7v37.8h-2.7zM1066.5 661.5h2.7v45.9h-2.7zM1069.2 615.6h2.7v45.9h-2.7zM1071.9 618.3h2.7v2.7h-2.7zM1074.6 621.0h2.7v5.4h-2.7zM1077.3 626.4h2.7v21.6h-2.7zM1080.0 648.0h2.7v37.8h-2.7zM1082.7 685.8h2.7v21.6h-2.7zM1085.4 691.2h2.7v10.8h-2.7zM1088.1 685.8h2.7v8.1h-2.7zM1090.8 693.9h2.7v13.5h-2.7zM1093.5 707.4h2.7v16.2h-2.7zM1096.2 723.6h2.7v8.1h-2.7zM1098.9 729.0h2.7v2.7h-2.7zM1101.6 723.6h2.7v8.1h-2.7zM1104.3 707.4h2.7v16.2h-2.7zM1107.0 672.3h2.7v35.1h-2.7zM1109.7 621.0h2.7v51.3h-2.7zM1112.4 594.0h2.7v27.0h-2.7zM1115.1 594.0h2.7v2.7h-2.7zM1117.8 594.0h2.7v5.4h-2.7zM1120.5 599.4h2.7v10.8h-2.7zM1123.2 610.2h2.7v10.8h-2.7zM1125.9 621.0h2.7v10.8h-2.7zM1128.6 631.8h2.7v10.8h-2.7zM1131.3 642.6h2.7v8.1h-2.7zM1134.0 639.9h2.7v5.4h-2.7zM1136.7 634.5h2.7v8.1h-2.7zM1139.4 642.6h2.7v16.2h-2.7zM1142.1 658.8h2.7v32.4h-2.7zM1144.8 691.2h2.7v45.9h-2.7zM1147.5 729.0h2.7v27.0h-2.7zM1150.2 685.8h2.7v43.2h-2.7zM1152.9 650.7h2.7v35.1h-2.7zM1155.6 664.2h2.7v21.6h-2.7zM1158.3 685.8h2.7v21.6h-2.7zM1161.0 693.9h2.7v27.0h-2.7zM1163.7 666.9h2.7v27.0h-2.7zM1166.4 669.6h2.7v2.7h-2.7zM1169.1 672.3h2.7v2.7h-2.7zM1171.8 675.0h2.7v2.7h-2.7zM1174.5 677.7h2.7v2.7h-2.7zM1177.2 680.4h2.7v2.7h-2.7zM1179.9 683.1h2.7v2.7h-2.7zM1182.6 685.8h2.7v18.9h-2.7zM1185.3 704.7h2.7v37.8h-2.7zM1188.0 718.2h2.7v45.9h-2.7zM1190.7 715.5h2.7v2.7h-2.7zM1193.4 710.1h2.7v5.4h-2.7zM1196.1 707.4h2.7v2.7h-2.7zM1198.8 699.3h2.7v8.1h-2.7zM1201.5 688.5h2.7v10.8h-2.7zM1204.2 675.0h2.7v13.5h-2.7zM1206.9 666.9h2.7v10.8h-2.7zM1209.6 677.7h2.7v13.5h-2.7zM1212.3 691.2h2.7v2.7h-2.7zM1215.0 693.9h2.7v2.7h-2.7zM1217.7 685.8h2.7v13.5h-2.7zM1220.4 664.2h2.7v21.6h-2.7zM1223.1 650.7h2.7v18.9h-2.7zM1225.8 669.6h2.7v21.6h-2.7zM1228.5 675.0h2.7v10.8h-2.7zM1231.2 666.9h2.7v8.1h-2.7zM1233.9 656.1h2.7v10.8h-2.7zM1236.6 634.5h2.7v21.6h-2.7zM1239.3 612.9h2.7v21.6h-2.7zM1242.0 626.4h2.7v21.6h-2.7zM1244.7 648.0h2.7v21.6h-2.7zM1247.4 669.6h2.7v35.1h-2.7zM1250.1 704.7h2.7v51.3h-2.7zM1252.8 756.0h2.7v54.0h-2.7zM1255.5 810.0h2.7v27.0h-2.7zM1258.2 758.7h2.7v51.3h-2.7zM1260.9 731.7h2.7v27.0h-2.7zM1263.6 739.8h2.7v16.2h-2.7zM1266.3 756.0h2.7v10.8h-2.7zM1269.0 766.8h2.7v5.4h-2.7zM1271.7 772.2h2.7v5.4h-2.7zM1274.4 777.6h2.7v5.4h-2.7zM1277.1 769.5h2.7v8.1h-2.7zM1279.8 761.4h2.7v8.1h-2.7zM1282.5 756.0h2.7v5.4h-2.7zM1285.2 747.9h2.7v8.1h-2.7zM1287.9 742.5h2.7v24.3h-2.7zM1290.6 734.4h2.7v21.6h-2.7zM1293.3 712.8h2.7v21.6h-2.7zM1296.0 696.6h2.7v16.2h-2.7zM1298.7 677.7h2.7v18.9h-2.7zM1301.4 661.5h2.7v16.2h-2.7zM1304.1 650.7h2.7v10.8h-2.7zM1306.8 653.4h2.7v2.7h-2.7zM1309.5 656.1h2.7v29.7h-2.7zM1312.2 685.8h2.7v45.9h-2.7zM1314.9 731.7h2.7v24.3h-2.7zM1317.6 756.0h2.7v16.2h-2.7zM1320.3 772.2h2.7v18.9h-2.7zM1323.0 791.1h2.7v24.3h-2.7zM1325.7 815.4h2.7v21.6h-2.7zM1328.4 837.0h2.7v21.6h-2.7zM1331.1 855.9h2.7v16.2h-2.7zM1333.8 837.0h2.7v18.9h-2.7zM1336.5 834.3h2.7v2.7h-2.7zM1339.2 831.6h2.7v2.7h-2.7zM1341.9 828.9h2.7v2.7h-2.7zM1344.6 804.6h2.7v24.3h-2.7zM1347.3 758.7h2.7v45.9h-2.7zM1350.0 718.2h2.7v40.5h-2.7zM1352.7 680.4h2.7v37.8h-2.7zM1355.4 661.5h2.7v18.9h-2.7zM1358.1 664.2h2.7v5.4h-2.7zM1360.8 669.6h2.7v10.8h-2.7zM1363.5 680.4h2.7v18.9h-2.7zM1366.2 699.3h2.7v10.8h-2.7zM1368.9 704.7h2.7v2.7h-2.7zM1371.6 704.7h2.7v2.7h-2.7zM1374.3 702.0h2.7v13.5h-2.7zM1377.0 715.5h2.7v18.9h-2.7zM1379.7 734.4h2.7v16.2h-2.7zM1382.4 750.6h2.7v21.6h-2.7zM1385.1 772.2h2.7v24.3h-2.7zM1387.8 796.5h2.7v27.0h-2.7zM1390.5 815.4h2.7v21.6h-2.7zM1393.2 772.2h2.7v43.2h-2.7zM1395.9 737.1h2.7v35.1h-2.7zM1398.6 712.8h2.7v24.3h-2.7zM1401.3 696.6h2.7v16.2h-2.7zM1404.0 691.2h2.7v5.4h-2.7zM1406.7 683.1h2.7v8.1h-2.7zM1409.4 677.7h2.7v16.2h-2.7zM1412.1 693.9h2.7v18.9h-2.7zM1414.8 702.0h2.7v5.4h-2.7zM1417.5 696.6h2.7v5.4h-2.7zM1420.2 688.5h2.7v8.1h-2.7zM1422.9 683.1h2.7v5.4h-2.7zM1425.6 677.7h2.7v5.4h-2.7zM1428.3 683.1h2.7v8.1h-2.7zM1431.0 691.2h2.7v5.4h-2.7zM1433.7 696.6h2.7v5.4h-2.7zM1436.4 685.8h2.7v10.8h-2.7zM1439.1 675.0h2.7v10.8h-2.7zM1441.8 664.2h2.7v10.8h-2.7zM1444.5 658.8h2.7v29.7h-2.7zM1447.2 688.5h2.7v62.1h-2.7zM1449.9 750.6h2.7v35.1h-2.7zM1452.6 710.1h2.7v48.6h-2.7zM1455.3 683.1h2.7v27.0h-2.7zM1458.0 688.5h2.7v8.1h-2.7zM1460.7 696.6h2.7v8.1h-2.7zM1463.4 704.7h2.7v8.1h-2.7zM1466.1 712.8h2.7v13.5h-2.7zM1468.8 726.3h2.7v13.5h-2.7zM1471.5 726.3h2.7v8.1h-2.7zM1474.2 720.9h2.7v5.4h-2.7zM1476.9 720.9h2.7v2.7h-2.7zM1479.6 718.2h2.7v2.7h-2.7zM1482.3 718.2h2.7v2.7h-2.7zM1485.0 707.4h2.7v13.5h-2.7zM1487.7 691.2h2.7v16.2h-2.7z" fill="#FF0000" stroke="#FF0000" stroke-width="0.45"/>
</g>
<path d="M207.9 550.8h2.7v2.7h-2.7zM210.6 550.8h2.7v2.7h-2.7zM213.3 545.4h2.7v2.7h-2.7zM213.3 550.8h2.7v2.7h-2.7zM216.0 545.4h2.7v2.7h-2.7zM216.0 550.8h2.7v2.7h-2.7zM218.7 537.3h2.7v27.0h-2.7zM218.7 607.5h2.7v2.7h-2.7zM221.4 545.4h2.7v2.7h-2.7zM221.4 550.8h2.7v2.7h-2.7zM221.4 607.5h2.7v2.7h-2.7zM224.1 531.9h2.7v27.0h-2.7zM224.1 607.5h2.7v2.7h-2.7zM226.8 545.4h2.7v2.7h-2.7zM226.8 550.8h2.7v2.7h-2.7zM226.8 607.5h2.7v2.7h-2.7zM226.8 626.4h2.7v2.7h-2.7zM229.5 545.4h2.7v2.7h-2.7zM229.5 550.8h2.7v2.7h-2.7zM229.5 594.0h2.7v27.0h-2.7zM229.5 626.4h2.7v2.7h-2.7zM232.2 545.4h2.7v2.7h-2.7zM232.2 550.8h2.7v2.7h-2.7zM232.2 564.3h2.7v2.7h-2.7zM232.2 607.5h2.7v2.7h-2.7zM232.2 626.4h2.7v2.7h-2.7zM234.9 545.4h2.7v2.7h-2.7zM234.9 564.3h2.7v2.7h-2.7zM234.9 607.5h2.7v2.7h-2.7zM234.9 626.4h2.7v2.7h-2.7zM237.6 545.4h2.7v2.7h-2.7zM237.6 558.9h2.7v2.7h-2.7zM237.6 564.3h2.7v2.7h-2.7zM237.6 607.5h2.7v2.7h-2.7zM237.6 612.9h2.7v27.0h-2.7zM240.3 558.9h2.7v2.7h-2.7zM240.3 564.3h2.7v2.7h-2.7zM240.3 607.5h2.7v2.7h-2.7zM240.3 626.4h2.7v2.7h-2.7zM243.0 550.8h2.7v27.0h-2.7zM243.0 607.5h2.7v2.7h-2.7zM243.0 615.6h2.7v2.7h-2.7zM243.0 626.4h2.7v2.7h-2.7zM245.7 558.9h2.7v2.7h-2.7zM245.7 564.3h2.7v2.7h-2.7zM245.7 615.6h2.7v2.7h-2.7zM245.7 626.4h2.7v2.7h-2.7zM245.7 691.2h2.7v2.7h-2.7zM248.4 545.4h2.7v27.0h-2.7zM248.4 615.6h2.7v2.7h-2.7zM248.4 626.4h2.7v2.7h-2.7zM248.4 691.2h2.7v2.7h-2.7zM251.1 558.9h2.7v2.7h-2.7zM251.1 564.3h2.7v2.7h-2.7zM251.1 615.6h2.7v2.7h-2.7zM251.1 626.4h2.7v5.4h-2.7zM251.1 691.2h2.7v2.7h-2.7zM253.8 558.9h2.7v2.7h-2.7zM253.8 564.3h2.7v2.7h-2.7zM253.8 602.1h2.7v29.7h-2.7zM253.8 691.2h2.7v2.7h-2.7zM256.5 558.9h2.7v2.7h-2.7zM256.5 564.3h2.7v2.7h-2.7zM256.5 615.6h2.7v2.7h-2.7zM256.5 629.1h2.7v2.7h-2.7zM256.5 677.7h2.7v27.0h-2.7zM259.2 558.9h2.7v2.7h-2.7zM259.2 583.2h2.7v2.7h-2.7zM259.2 615.6h2.7v2.7h-2.7zM259.2 629.1h2.7v2.7h-2.7zM259.2 691.2h2.7v2.7h-2.7zM261.9 558.9h2.7v2.7h-2.7zM261.9 583.2h2.7v2.7h-2.7zM261.9 615.6h2.7v27.0h-2.7zM261.9 691.2h2.7v2.7h-2.7zM264.6 556.2h2.7v2.7h-2.7zM264.6 583.2h2.7v2.7h-2.7zM264.6 615.6h2.7v2.7h-2.7zM264.6 629.1h2.7v2.7h-2.7zM264.6 691.2h2.7v2.7h-2.7zM267.3 556.2h2.7v2.7h-2.7zM267.3 583.2h2.7v2.7h-2.7zM267.3 615.6h2.7v2.7h-2.7zM267.3 629.1h2.7v2.7h-2.7zM267.3 691.2h2.7v2.7h-2.7zM270.0 556.2h2.7v2.7h-2.7zM270.0 569.7h2.7v27.0h-2.7zM270.0 629.1h2.7v2.7h-2.7zM270.0 691.2h2.7v2.7h-2.7zM272.7 556.2h2.7v2.7h-2.7zM272.7 583.2h2.7v2.7h-2.7zM272.7 588.6h2.7v2.7h-2.7zM272.7 629.1h2.7v2.7h-2.7zM275.4 542.7h2.7v27.0h-2.7zM275.4 583.2h2.7v2.7h-2.7zM275.4 588.6h2.7v2.7h-2.7zM275.4 629.1h2.7v2.7h-2.7zM278.1 556.2h2.7v2.7h-2.7zM278.1 583.2h2.7v2.7h-2.7zM278.1 588.6h2.7v2.7h-2.7zM278.1 602.1h2.7v2.7h-2.7zM280.8 556.2h2.7v2.7h-2.7zM280.8 575.1h2.7v29.7h-2.7zM283.5 556.2h2.7v2.7h-2.7zM283.5 583.2h2.7v2.7h-2.7zM283.5 588.6h2.7v2.7h-2.7zM283.5 602.1h2.7v2.7h-2.7zM286.2 556.2h2.7v2.7h-2.7zM286.2 588.6h2.7v2.7h-2.7zM286.2 602.1h2.7v2.7h-2.7zM286.2 623.7h2.7v2.7h-2.7zM288.9 556.2h2.7v2.7h-2.7zM288.9 588.6h2.7v27.0h-2.7zM288.9 623.7h2.7v2.7h-2.7zM291.6 572.4h2.7v2.7h-2.7zM291.6 588.6h2.7v2.7h-2.7zM291.6 602.1h2.7v2.7h-2.7zM291.6 623.7h2.7v2.7h-2.7zM294.3 572.4h2.7v2.7h-2.7zM294.3 588.6h2.7v2.7h-2.7zM294.3 602.1h2.7v2.7h-2.7zM294.3 623.7h2.7v2.7h-2.7zM297.0 572.4h2.7v2.7h-2.7zM297.0 602.1h2.7v2.7h-2.7zM297.0 610.2h2.7v27.0h-2.7zM299.7 548.1h2.7v2.7h-2.7zM299.7 572.4h2.7v2.7h-2.7zM299.7 602.1h2.7v2.7h-2.7zM299.7 623.7h2.7v2.7h-2.7zM302.4 548.1h2.7v2.7h-2.7zM302.4 558.9h2.7v27.0h-2.7zM302.4 602.1h2.7v2.7h-2.7zM302.4 623.7h2.7v2.7h-2.7zM305.1 548.1h2.7v2.7h-2.7zM305.1 572.4h2.7v2.7h-2.7zM305.1 623.7h2.7v2.7h-2.7zM307.8 548.1h2.7v2.7h-2.7zM307.8 572.4h2.7v2.7h-2.7zM307.8 623.7h2.7v2.7h-2.7zM310.5 534.6h2.7v27.0h-2.7zM310.5 572.4h2.7v2.7h-2.7zM310.5 623.7h2.7v2.7h-2.7zM310.5 637.2h2.7v2.7h-2.7zM313.2 548.1h2.7v2.7h-2.7zM313.2 572.4h2.7v2.7h-2.7zM313.2 637.2h2.7v2.7h-2.7zM315.9 548.1h2.7v2.7h-2.7zM315.9 572.4h2.7v2.7h-2.7zM315.9 637.2h2.7v2.7h-2.7zM315.9 712.8h2.7v2.7h-2.7zM318.6 548.1h2.7v2.7h-2.7zM318.6 637.2h2.7v2.7h-2.7zM318.6 712.8h2.7v2.7h-2.7zM321.3 548.1h2.7v2.7h-2.7zM321.3 588.6h2.7v2.7h-2.7zM321.3 623.7h2.7v27.0h-2.7zM321.3 712.8h2.7v2.7h-2.7zM324.0 548.1h2.7v2.7h-2.7zM324.0 588.6h2.7v2.7h-2.7zM324.0 637.2h2.7v2.7h-2.7zM324.0 712.8h2.7v2.7h-2.7zM326.7 588.6h2.7v2.7h-2.7zM326.7 637.2h2.7v2.7h-2.7zM326.7 699.3h2.7v27.0h-2.7zM329.4 553.5h2.7v2.7h-2.7zM329.4 588.6h2.7v2.7h-2.7zM329.4 637.2h2.7v2.7h-2.7zM329.4 712.8h2.7v2.7h-2.7zM332.1 553.5h2.7v2.7h-2.7zM332.1 575.1h2.7v27.0h-2.7zM332.1 637.2h2.7v2.7h-2.7zM332.1 712.8h2.7v2.7h-2.7zM334.8 553.5h2.7v2.7h-2.7zM334.8 588.6h2.7v2.7h-2.7zM334.8 637.2h2.7v2.7h-2.7zM334.8 712.8h2.7v2.7h-2.7zM337.5 553.5h2.7v2.7h-2.7zM337.5 588.6h2.7v2.7h-2.7zM337.5 712.8h2.7v2.7h-2.7zM340.2 529.2h2.7v2.7h-2.7zM340.2 540.0h2.7v27.0h-2.7zM340.2 588.6h2.7v2.7h-2.7zM340.2 712.8h2.7v2.7h-2.7zM342.9 529.2h2.7v2.7h-2.7zM342.9 553.5h2.7v2.7h-2.7zM342.9 588.6h2.7v2.7h-2.7zM345.6 529.2h2.7v2.7h-2.7zM345.6 534.6h2.7v2.7h-2.7zM345.6 553.5h2.7v2.7h-2.7zM345.6 588.6h2.7v2.7h-2.7zM348.3 529.2h2.7v2.7h-2.7zM348.3 534.6h2.7v2.7h-2.7zM348.3 553.5h2.7v2.7h-2.7zM351.0 515.7h2.7v27.0h-2.7zM351.0 553.5h2.7v2.7h-2.7zM351.0 558.9h2.7v2.7h-2.7zM353.7 529.2h2.7v2.7h-2.7zM353.7 534.6h2.7v2.7h-2.7zM353.7 553.5h2.7v2.7h-2.7zM353.7 558.9h2.7v2.7h-2.7zM356.4 521.1h2.7v27.0h-2.7zM356.4 558.9h2.7v2.7h-2.7zM359.1 529.2h2.7v2.7h-2.7zM359.1 534.6h2.7v2.7h-2.7zM359.1 558.9h2.7v2.7h-2.7zM359.1 599.4h2.7v2.7h-2.7zM361.8 529.2h2.7v2.7h-2.7zM361.8 534.6h2.7v2.7h-2.7zM361.8 545.4h2.7v27.0h-2.7zM361.8 599.4h2.7v2.7h-2.7zM364.5 529.2h2.7v2.7h-2.7zM364.5 534.6h2.7v2.7h-2.7zM364.5 558.9h2.7v2.7h-2.7zM364.5 599.4h2.7v2.7h-2.7zM364.5 634.5h2.7v2.7h-2.7zM367.2 534.6h2.7v2.7h-2.7zM367.2 558.9h2.7v2.7h-2.7zM367.2 599.4h2.7v2.7h-2.7zM367.2 634.5h2.7v2.7h-2.7zM369.9 534.6h2.7v2.7h-2.7zM369.9 558.9h2.7v2.7h-2.7zM369.9 585.9h2.7v27.0h-2.7zM369.9 634.5h2.7v2.7h-2.7zM372.6 558.9h2.7v2.7h-2.7zM372.6 599.4h2.7v2.7h-2.7zM372.6 634.5h2.7v2.7h-2.7zM375.3 558.9h2.7v2.7h-2.7zM375.3 599.4h2.7v2.7h-2.7zM375.3 615.6h2.7v2.7h-2.7zM375.3 621.0h2.7v27.0h-2.7zM378.0 599.4h2.7v2.7h-2.7zM378.0 615.6h2.7v2.7h-2.7zM378.0 634.5h2.7v2.7h-2.7zM380.7 477.9h2.7v2.7h-2.7zM380.7 599.4h2.7v2.7h-2.7zM380.7 615.6h2.7v2.7h-2.7zM380.7 634.5h2.7v2.7h-2.7zM383.4 477.9h2.7v2.7h-2.7zM383.4 599.4h2.7v2.7h-2.7zM383.4 615.6h2.7v2.7h-2.7zM383.4 634.5h2.7v2.7h-2.7zM386.1 477.9h2.7v2.7h-2.7zM386.1 483.3h2.7v2.7h-2.7zM386.1 602.1h2.7v27.0h-2.7zM386.1 634.5h2.7v2.7h-2.7zM388.8 477.9h2.7v2.7h-2.7zM388.8 483.3h2.7v2.7h-2.7zM388.8 615.6h2.7v2.7h-2.7zM388.8 634.5h2.7v2.7h-2.7zM391.5 464.4h2.7v27.0h-2.7zM391.5 564.3h2.7v2.7h-2.7zM391.5 615.6h2.7v2.7h-2.7zM394.2 477.9h2.7v2.7h-2.7zM394.2 483.3h2.7v2.7h-2.7zM394.2 564.3h2.7v2.7h-2.7zM394.2 615.6h2.7v2.7h-2.7zM396.9 469.8h2.7v27.0h-2.7zM396.9 564.3h2.7v2.7h-2.7zM396.9 615.6h2.7v2.7h-2.7zM399.6 477.9h2.7v2.7h-2.7zM399.6 483.3h2.7v2.7h-2.7zM399.6 564.3h2.7v2.7h-2.7zM399.6 585.9h2.7v2.7h-2.7zM399.6 615.6h2.7v2.7h-2.7zM402.3 477.9h2.7v2.7h-2.7zM402.3 483.3h2.7v2.7h-2.7zM402.3 550.8h2.7v27.0h-2.7zM402.3 585.9h2.7v2.7h-2.7zM405.0 477.9h2.7v2.7h-2.7zM405.0 483.3h2.7v2.7h-2.7zM405.0 540.0h2.7v2.7h-2.7zM405.0 564.3h2.7v2.7h-2.7zM405.0 585.9h2.7v2.7h-2.7zM407.7 483.3h2.7v2.7h-2.7zM407.7 540.0h2.7v2.7h-2.7zM407.7 564.3h2.7v2.7h-2.7zM407.7 585.9h2.7v2.7h-2.7zM410.4 483.3h2.7v2.7h-2.7zM410.4 540.0h2.7v2.7h-2.7zM410.4 564.3h2.7v2.7h-2.7zM410.4 572.4h2.7v27.0h-2.7zM413.1 540.0h2.7v2.7h-2.7zM413.1 564.3h2.7v2.7h-2.7zM413.1 585.9h2.7v2.7h-2.7zM415.8 526.5h2.7v27.0h-2.7zM415.8 564.3h2.7v2.7h-2.7zM415.8 569.7h2.7v2.7h-2.7zM415.8 585.9h2.7v2.7h-2.7zM418.5 540.0h2.7v2.7h-2.7zM418.5 569.7h2.7v2.7h-2.7zM418.5 585.9h2.7v2.7h-2.7zM421.2 531.9h2.7v2.7h-2.7zM421.2 540.0h2.7v2.7h-2.7zM421.2 569.7h2.7v2.7h-2.7zM421.2 585.9h2.7v2.7h-2.7zM423.9 531.9h2.7v2.7h-2.7zM423.9 540.0h2.7v2.7h-2.7zM423.9 569.7h2.7v2.7h-2.7zM423.9 585.9h2.7v2.7h-2.7zM426.6 513.0h2.7v2.7h-2.7zM426.6 531.9h2.7v2.7h-2.7zM426.6 540.0h2.7v2.7h-2.7zM426.6 556.2h2.7v27.0h-2.7zM429.3 513.0h2.7v2.7h-2.7zM429.3 531.9h2.7v2.7h-2.7zM429.3 540.0h2.7v2.7h-2.7zM429.3 569.7h2.7v2.7h-2.7zM432.0 513.0h2.7v2.7h-2.7zM432.0 518.4h2.7v27.0h-2.7zM432.0 569.7h2.7v2.7h-2.7zM434.7 513.0h2.7v2.7h-2.7zM434.7 531.9h2.7v2.7h-2.7zM434.7 569.7h2.7v2.7h-2.7zM437.4 499.5h2.7v27.0h-2.7zM437.4 531.9h2.7v2.7h-2.7zM437.4 569.7h2.7v2.7h-2.7zM437.4 583.2h2.7v2.7h-2.7zM440.1 513.0h2.7v2.7h-2.7zM440.1 531.9h2.7v2.7h-2.7zM440.1 569.7h2.7v2.7h-2.7zM440.1 583.2h2.7v2.7h-2.7zM442.8 513.0h2.7v2.7h-2.7zM442.8 531.9h2.7v2.7h-2.7zM442.8 583.2h2.7v2.7h-2.7zM445.5 513.0h2.7v2.7h-2.7zM445.5 531.9h2.7v2.7h-2.7zM445.5 583.2h2.7v2.7h-2.7zM445.5 612.9h2.7v2.7h-2.7zM448.2 472.5h2.7v2.7h-2.7zM448.2 513.0h2.7v2.7h-2.7zM448.2 569.7h2.7v27.0h-2.7zM448.2 612.9h2.7v2.7h-2.7zM450.9 472.5h2.7v2.7h-2.7zM450.9 513.0h2.7v2.7h-2.7zM450.9 583.2h2.7v2.7h-2.7zM450.9 612.9h2.7v2.7h-2.7zM453.6 456.3h2.7v2.7h-2.7zM453.6 472.5h2.7v2.7h-2.7zM453.6 583.2h2.7v2.7h-2.7zM453.6 612.9h2.7v2.7h-2.7zM456.3 456.3h2.7v2.7h-2.7zM456.3 472.5h2.7v2.7h-2.7zM456.3 583.2h2.7v2.7h-2.7zM456.3 599.4h2.7v27.0h-2.7zM459.0 456.3h2.7v29.7h-2.7zM459.0 583.2h2.7v2.7h-2.7zM459.0 612.9h2.7v2.7h-2.7zM461.7 456.3h2.7v2.7h-2.7zM461.7 472.5h2.7v2.7h-2.7zM461.7 583.2h2.7v2.7h-2.7zM461.7 612.9h2.7v2.7h-2.7zM464.4 442.8h2.7v27.0h-2.7zM464.4 472.5h2.7v2.7h-2.7zM464.4 564.3h2.7v2.7h-2.7zM464.4 612.9h2.7v2.7h-2.7zM467.1 456.3h2.7v2.7h-2.7zM467.1 472.5h2.7v2.7h-2.7zM467.1 564.3h2.7v2.7h-2.7zM467.1 612.9h2.7v2.7h-2.7zM469.8 456.3h2.7v2.7h-2.7zM469.8 472.5h2.7v2.7h-2.7zM469.8 564.3h2.7v2.7h-2.7zM469.8 599.4h2.7v27.0h-2.7zM472.5 456.3h2.7v2.7h-2.7zM472.5 472.5h2.7v2.7h-2.7zM472.5 561.6h2.7v5.4h-2.7zM472.5 612.9h2.7v2.7h-2.7zM475.2 456.3h2.7v2.7h-2.7zM475.2 550.8h2.7v27.0h-2.7zM475.2 612.9h2.7v2.7h-2.7zM477.9 456.3h2.7v2.7h-2.7zM477.9 561.6h2.7v5.4h-2.7zM477.9 612.9h2.7v2.7h-2.7zM477.9 693.9h2.7v2.7h-2.7zM480.6 561.6h2.7v5.4h-2.7zM480.6 612.9h2.7v2.7h-2.7zM480.6 693.9h2.7v2.7h-2.7zM483.3 548.1h2.7v27.0h-2.7zM483.3 612.9h2.7v2.7h-2.7zM483.3 618.3h2.7v2.7h-2.7zM483.3 693.9h2.7v2.7h-2.7zM486.0 561.6h2.7v5.4h-2.7zM486.0 618.3h2.7v2.7h-2.7zM486.0 693.9h2.7v2.7h-2.7zM488.7 561.6h2.7v5.4h-2.7zM488.7 575.1h2.7v2.7h-2.7zM488.7 618.3h2.7v2.7h-2.7zM488.7 680.4h2.7v27.0h-2.7zM491.4 561.6h2.7v2.7h-2.7zM491.4 575.1h2.7v2.7h-2.7zM491.4 618.3h2.7v2.7h-2.7zM491.4 693.9h2.7v2.7h-2.7zM494.1 534.6h2.7v2.7h-2.7zM494.1 561.6h2.7v2.7h-2.7zM494.1 575.1h2.7v2.7h-2.7zM494.1 604.8h2.7v27.0h-2.7zM494.1 693.9h2.7v2.7h-2.7zM496.8 534.6h2.7v2.7h-2.7zM496.8 561.6h2.7v2.7h-2.7zM496.8 575.1h2.7v2.7h-2.7zM496.8 618.3h2.7v2.7h-2.7zM496.8 693.9h2.7v2.7h-2.7zM499.5 534.6h2.7v2.7h-2.7zM499.5 561.6h2.7v27.0h-2.7zM499.5 618.3h2.7v2.7h-2.7zM499.5 693.9h2.7v2.7h-2.7zM502.2 534.6h2.7v2.7h-2.7zM502.2 553.5h2.7v2.7h-2.7zM502.2 575.1h2.7v2.7h-2.7zM502.2 618.3h2.7v2.7h-2.7zM502.2 693.9h2.7v2.7h-2.7zM504.9 521.1h2.7v27.0h-2.7zM504.9 553.5h2.7v2.7h-2.7zM504.9 575.1h2.7v2.7h-2.7zM504.9 618.3h2.7v2.7h-2.7zM507.6 534.6h2.7v2.7h-2.7zM507.6 553.5h2.7v2.7h-2.7zM507.6 575.1h2.7v2.7h-2.7zM507.6 604.8h2.7v2.7h-2.7zM507.6 618.3h2.7v2.7h-2.7zM510.3 534.6h2.7v2.7h-2.7zM510.3 553.5h2.7v2.7h-2.7zM510.3 575.1h2.7v2.7h-2.7zM510.3 604.8h2.7v2.7h-2.7zM513.0 534.6h2.7v2.7h-2.7zM513.0 540.0h2.7v27.0h-2.7zM513.0 575.1h2.7v2.7h-2.7zM513.0 604.8h2.7v2.7h-2.7zM515.7 534.6h2.7v2.7h-2.7zM515.7 550.8h2.7v5.4h-2.7zM515.7 604.8h2.7v2.7h-2.7zM518.4 529.2h2.7v2.7h-2.7zM518.4 534.6h2.7v2.7h-2.7zM518.4 550.8h2.7v5.4h-2.7zM518.4 591.3h2.7v27.0h-2.7zM521.1 529.2h2.7v2.7h-2.7zM521.1 550.8h2.7v5.4h-2.7zM521.1 604.8h2.7v2.7h-2.7zM523.8 529.2h2.7v2.7h-2.7zM523.8 537.3h2.7v27.0h-2.7zM523.8 567.0h2.7v2.7h-2.7zM523.8 604.8h2.7v2.7h-2.7zM526.5 529.2h2.7v2.7h-2.7zM526.5 550.8h2.7v5.4h-2.7zM526.5 567.0h2.7v2.7h-2.7zM526.5 604.8h2.7v2.7h-2.7zM529.2 515.7h2.7v27.0h-2.7zM529.2 550.8h2.7v2.7h-2.7zM529.2 567.0h2.7v2.7h-2.7zM529.2 604.8h2.7v2.7h-2.7zM531.9 504.9h2.7v2.7h-2.7zM531.9 529.2h2.7v2.7h-2.7zM531.9 550.8h2.7v2.7h-2.7zM531.9 567.0h2.7v2.7h-2.7zM531.9 604.8h2.7v2.7h-2.7zM534.6 504.9h2.7v2.7h-2.7zM534.6 529.2h2.7v2.7h-2.7zM534.6 550.8h2.7v29.7h-2.7zM537.3 499.5h2.7v2.7h-2.7zM537.3 504.9h2.7v2.7h-2.7zM537.3 529.2h2.7v2.7h-2.7zM537.3 550.8h2.7v2.7h-2.7zM537.3 567.0h2.7v2.7h-2.7zM540.0 499.5h2.7v2.7h-2.7zM540.0 504.9h2.7v2.7h-2.7zM540.0 529.2h2.7v2.7h-2.7zM540.0 567.0h2.7v2.7h-2.7zM540.0 629.1h2.7v2.7h-2.7zM542.7 491.4h2.7v27.0h-2.7zM542.7 529.2h2.7v2.7h-2.7zM542.7 567.0h2.7v2.7h-2.7zM542.7 629.1h2.7v2.7h-2.7zM545.4 499.5h2.7v2.7h-2.7zM545.4 504.9h2.7v2.7h-2.7zM545.4 567.0h2.7v2.7h-2.7zM545.4 629.1h2.7v2.7h-2.7zM548.1 486.0h2.7v27.0h-2.7zM548.1 567.0h2.7v2.7h-2.7zM548.1 580.5h2.7v2.7h-2.7zM548.1 629.1h2.7v2.7h-2.7zM550.8 499.5h2.7v2.7h-2.7zM550.8 504.9h2.7v2.7h-2.7zM550.8 580.5h2.7v2.7h-2.7zM550.8 615.6h2.7v27.0h-2.7zM553.5 499.5h2.7v2.7h-2.7zM553.5 504.9h2.7v2.7h-2.7zM553.5 580.5h2.7v2.7h-2.7zM553.5 629.1h2.7v2.7h-2.7zM553.5 639.9h2.7v2.7h-2.7zM556.2 499.5h2.7v2.7h-2.7zM556.2 504.9h2.7v2.7h-2.7zM556.2 580.5h2.7v2.7h-2.7zM556.2 629.1h2.7v2.7h-2.7zM556.2 639.9h2.7v2.7h-2.7zM558.9 491.4h2.7v2.7h-2.7zM558.9 499.5h2.7v2.7h-2.7zM558.9 567.0h2.7v27.0h-2.7zM558.9 629.1h2.7v2.7h-2.7zM558.9 639.9h2.7v2.7h-2.7zM561.6 491.4h2.7v2.7h-2.7zM561.6 499.5h2.7v2.7h-2.7zM561.6 580.5h2.7v2.7h-2.7zM561.6 629.1h2.7v2.7h-2.7zM561.6 639.9h2.7v2.7h-2.7zM564.3 491.4h2.7v2.7h-2.7zM564.3 510.3h2.7v2.7h-2.7zM564.3 580.5h2.7v2.7h-2.7zM564.3 626.4h2.7v27.0h-2.7zM567.0 491.4h2.7v2.7h-2.7zM567.0 510.3h2.7v2.7h-2.7zM567.0 580.5h2.7v2.7h-2.7zM567.0 639.9h2.7v2.7h-2.7zM569.7 477.9h2.7v27.0h-2.7zM569.7 510.3h2.7v2.7h-2.7zM569.7 580.5h2.7v2.7h-2.7zM569.7 639.9h2.7v2.7h-2.7zM572.4 491.4h2.7v2.7h-2.7zM572.4 510.3h2.7v2.7h-2.7zM572.4 523.8h2.7v2.7h-2.7zM572.4 580.5h2.7v2.7h-2.7zM572.4 639.9h2.7v2.7h-2.7zM575.1 491.4h2.7v2.7h-2.7zM575.1 496.8h2.7v29.7h-2.7zM575.1 639.9h2.7v2.7h-2.7zM577.8 491.4h2.7v2.7h-2.7zM577.8 510.3h2.7v2.7h-2.7zM577.8 523.8h2.7v2.7h-2.7zM577.8 602.1h2.7v2.7h-2.7zM577.8 639.9h2.7v2.7h-2.7zM580.5 491.4h2.7v2.7h-2.7zM580.5 510.3h2.7v2.7h-2.7zM580.5 523.8h2.7v2.7h-2.7zM580.5 602.1h2.7v2.7h-2.7zM583.2 491.4h2.7v2.7h-2.7zM583.2 510.3h2.7v27.0h-2.7zM583.2 575.1h2.7v2.7h-2.7zM583.2 602.1h2.7v2.7h-2.7zM585.9 510.3h2.7v2.7h-2.7zM585.9 523.8h2.7v2.7h-2.7zM585.9 575.1h2.7v2.7h-2.7zM585.9 602.1h2.7v2.7h-2.7zM588.6 510.3h2.7v2.7h-2.7zM588.6 523.8h2.7v2.7h-2.7zM588.6 537.3h2.7v2.7h-2.7zM588.6 575.1h2.7v2.7h-2.7zM588.6 588.6h2.7v27.0h-2.7zM591.3 523.8h2.7v2.7h-2.7zM591.3 537.3h2.7v2.7h-2.7zM591.3 575.1h2.7v2.7h-2.7zM591.3 602.1h2.7v2.7h-2.7zM594.0 523.8h2.7v2.7h-2.7zM594.0 537.3h2.7v2.7h-2.7zM594.0 561.6h2.7v27.0h-2.7zM594.0 602.1h2.7v2.7h-2.7zM596.7 523.8h2.7v2.7h-2.7zM596.7 537.3h2.7v2.7h-2.7zM596.7 575.1h2.7v2.7h-2.7zM596.7 602.1h2.7v2.7h-2.7zM599.4 523.8h2.7v27.0h-2.7zM599.4 575.1h2.7v2.7h-2.7zM599.4 602.1h2.7v2.7h-2.7zM602.1 537.3h2.7v2.7h-2.7zM602.1 575.1h2.7v2.7h-2.7zM602.1 591.3h2.7v2.7h-2.7zM602.1 602.1h2.7v2.7h-2.7zM604.8 537.3h2.7v2.7h-2.7zM604.8 575.1h2.7v2.7h-2.7zM604.8 591.3h2.7v2.7h-2.7zM607.5 537.3h2.7v2.7h-2.7zM607.5 575.1h2.7v2.7h-2.7zM607.5 591.3h2.7v2.7h-2.7zM607.5 602.1h2.7v2.7h-2.7zM610.2 537.3h2.7v2.7h-2.7zM610.2 591.3h2.7v2.7h-2.7zM610.2 602.1h2.7v2.7h-2.7zM612.9 537.3h2.7v2.7h-2.7zM612.9 569.7h2.7v2.7h-2.7zM612.9 577.8h2.7v27.0h-2.7zM615.6 569.7h2.7v2.7h-2.7zM615.6 591.3h2.7v2.7h-2.7zM615.6 602.1h2.7v2.7h-2.7zM618.3 534.6h2.7v2.7h-2.7zM618.3 569.7h2.7v2.7h-2.7zM618.3 588.6h2.7v27.0h-2.7zM621.0 534.6h2.7v2.7h-2.7zM621.0 569.7h2.7v2.7h-2.7zM621.0 591.3h2.7v2.7h-2.7zM621.0 602.1h2.7v2.7h-2.7zM623.7 534.6h2.7v2.7h-2.7zM623.7 556.2h2.7v27.0h-2.7zM623.7 591.3h2.7v2.7h-2.7zM623.7 602.1h2.7v2.7h-2.7zM626.4 534.6h2.7v2.7h-2.7zM626.4 569.7h2.7v2.7h-2.7zM626.4 591.3h2.7v2.7h-2.7zM626.4 602.1h2.7v2.7h-2.7zM629.1 518.4h2.7v29.7h-2.7zM629.1 569.7h2.7v2.7h-2.7zM629.1 602.1h2.7v2.7h-2.7zM631.8 518.4h2.7v2.7h-2.7zM631.8 534.6h2.7v2.7h-2.7zM631.8 569.7h2.7v2.7h-2.7zM631.8 602.1h2.7v2.7h-2.7zM634.5 504.9h2.7v2.7h-2.7zM634.5 518.4h2.7v2.7h-2.7zM634.5 534.6h2.7v2.7h-2.7zM634.5 569.7h2.7v2.7h-2.7zM637.2 504.9h2.7v2.7h-2.7zM637.2 518.4h2.7v2.7h-2.7zM637.2 534.6h2.7v2.7h-2.7zM637.2 569.7h2.7v2.7h-2.7zM639.9 504.9h2.7v27.0h-2.7zM639.9 534.6h2.7v2.7h-2.7zM642.6 491.4h2.7v2.7h-2.7zM642.6 504.9h2.7v2.7h-2.7zM642.6 518.4h2.7v2.7h-2.7zM642.6 534.6h2.7v2.7h-2.7zM645.3 491.4h2.7v29.7h-2.7zM648.0 491.4h2.7v2.7h-2.7zM648.0 504.9h2.7v2.7h-2.7zM648.0 518.4h2.7v2.7h-2.7zM650.7 491.4h2.7v2.7h-2.7zM650.7 504.9h2.7v2.7h-2.7zM650.7 518.4h2.7v2.7h-2.7zM650.7 639.9h2.7v2.7h-2.7zM653.4 477.9h2.7v29.7h-2.7zM653.4 518.4h2.7v2.7h-2.7zM653.4 639.9h2.7v2.7h-2.7zM656.1 491.4h2.7v2.7h-2.7zM656.1 504.9h2.7v2.7h-2.7zM656.1 556.2h2.7v2.7h-2.7zM656.1 639.9h2.7v2.7h-2.7zM658.8 491.4h2.7v2.7h-2.7zM658.8 504.9h2.7v2.7h-2.7zM658.8 556.2h2.7v2.7h-2.7zM658.8 639.9h2.7v2.7h-2.7zM661.5 491.4h2.7v2.7h-2.7zM661.5 526.5h2.7v2.7h-2.7zM661.5 556.2h2.7v2.7h-2.7zM661.5 626.4h2.7v27.0h-2.7zM664.2 491.4h2.7v2.7h-2.7zM664.2 526.5h2.7v2.7h-2.7zM664.2 556.2h2.7v2.7h-2.7zM664.2 639.9h2.7v2.7h-2.7zM666.9 491.4h2.7v2.7h-2.7zM666.9 526.5h2.7v2.7h-2.7zM666.9 542.7h2.7v27.0h-2.7zM666.9 639.9h2.7v2.7h-2.7zM669.6 526.5h2.7v2.7h-2.7zM669.6 556.2h2.7v2.7h-2.7zM669.6 567.0h2.7v2.7h-2.7zM669.6 639.9h2.7v2.7h-2.7zM672.3 513.0h2.7v27.0h-2.7zM672.3 556.2h2.7v2.7h-2.7zM672.3 567.0h2.7v2.7h-2.7zM672.3 639.9h2.7v2.7h-2.7zM675.0 526.5h2.7v2.7h-2.7zM675.0 556.2h2.7v2.7h-2.7zM675.0 567.0h2.7v2.7h-2.7zM675.0 623.7h2.7v2.7h-2.7zM675.0 639.9h2.7v2.7h-2.7zM677.7 526.5h2.7v2.7h-2.7zM677.7 556.2h2.7v2.7h-2.7zM677.7 567.0h2.7v2.7h-2.7zM677.7 623.7h2.7v2.7h-2.7zM680.4 526.5h2.7v2.7h-2.7zM680.4 553.5h2.7v27.0h-2.7zM680.4 618.3h2.7v2.7h-2.7zM680.4 623.7h2.7v2.7h-2.7zM683.1 526.5h2.7v2.7h-2.7zM683.1 567.0h2.7v2.7h-2.7zM683.1 618.3h2.7v2.7h-2.7zM683.1 623.7h2.7v2.7h-2.7zM685.8 450.9h2.7v2.7h-2.7zM685.8 526.5h2.7v2.7h-2.7zM685.8 567.0h2.7v2.7h-2.7zM685.8 610.2h2.7v27.0h-2.7zM688.5 450.9h2.7v2.7h-2.7zM688.5 567.0h2.7v2.7h-2.7zM688.5 618.3h2.7v2.7h-2.7zM688.5 623.7h2.7v2.7h-2.7zM691.2 440.1h2.7v2.7h-2.7zM691.2 450.9h2.7v2.7h-2.7zM691.2 567.0h2.7v2.7h-2.7zM691.2 604.8h2.7v27.0h-2.7zM693.9 440.1h2.7v2.7h-2.7zM693.9 450.9h2.7v2.7h-2.7zM693.9 567.0h2.7v2.7h-2.7zM693.9 618.3h2.7v2.7h-2.7zM693.9 623.7h2.7v2.7h-2.7zM696.6 437.4h2.7v27.0h-2.7zM696.6 507.6h2.7v2.7h-2.7zM696.6 618.3h2.7v2.7h-2.7zM696.6 623.7h2.7v2.7h-2.7zM699.3 440.1h2.7v2.7h-2.7zM699.3 450.9h2.7v2.7h-2.7zM699.3 507.6h2.7v2.7h-2.7zM699.3 618.3h2.7v2.7h-2.7zM699.3 623.7h2.7v2.7h-2.7zM702.0 426.6h2.7v27.0h-2.7zM702.0 507.6h2.7v2.7h-2.7zM702.0 537.3h2.7v2.7h-2.7zM702.0 618.3h2.7v2.7h-2.7zM704.7 440.1h2.7v2.7h-2.7zM704.7 450.9h2.7v2.7h-2.7zM704.7 507.6h2.7v2.7h-2.7zM704.7 537.3h2.7v2.7h-2.7zM704.7 618.3h2.7v2.7h-2.7zM707.4 440.1h2.7v2.7h-2.7zM707.4 450.9h2.7v2.7h-2.7zM707.4 494.1h2.7v27.0h-2.7zM707.4 537.3h2.7v2.7h-2.7zM707.4 569.7h2.7v2.7h-2.7zM710.1 440.1h2.7v2.7h-2.7zM710.1 450.9h2.7v2.7h-2.7zM710.1 507.6h2.7v2.7h-2.7zM710.1 537.3h2.7v2.7h-2.7zM710.1 569.7h2.7v2.7h-2.7zM712.8 440.1h2.7v2.7h-2.7zM712.8 507.6h2.7v2.7h-2.7zM712.8 523.8h2.7v27.0h-2.7zM712.8 569.7h2.7v2.7h-2.7zM715.5 440.1h2.7v2.7h-2.7zM715.5 507.6h2.7v2.7h-2.7zM715.5 537.3h2.7v2.7h-2.7zM715.5 569.7h2.7v2.7h-2.7zM718.2 507.6h2.7v2.7h-2.7zM718.2 537.3h2.7v2.7h-2.7zM718.2 556.2h2.7v27.0h-2.7zM720.9 507.6h2.7v2.7h-2.7zM720.9 537.3h2.7v2.7h-2.7zM720.9 548.1h2.7v2.7h-2.7zM720.9 569.7h2.7v2.7h-2.7zM723.6 537.3h2.7v2.7h-2.7zM723.6 548.1h2.7v2.7h-2.7zM723.6 569.7h2.7v2.7h-2.7zM726.3 523.8h2.7v27.0h-2.7zM726.3 569.7h2.7v2.7h-2.7zM726.3 594.0h2.7v2.7h-2.7zM729.0 537.3h2.7v2.7h-2.7zM729.0 548.1h2.7v2.7h-2.7zM729.0 569.7h2.7v2.7h-2.7zM729.0 594.0h2.7v2.7h-2.7zM731.7 534.6h2.7v27.0h-2.7zM731.7 569.7h2.7v2.7h-2.7zM731.7 594.0h2.7v2.7h-2.7zM731.7 621.0h2.7v2.7h-2.7zM734.4 537.3h2.7v2.7h-2.7zM734.4 548.1h2.7v2.7h-2.7zM734.4 594.0h2.7v2.7h-2.7zM734.4 621.0h2.7v2.7h-2.7zM737.1 537.3h2.7v2.7h-2.7zM737.1 548.1h2.7v2.7h-2.7zM737.1 580.5h2.7v27.0h-2.7zM737.1 621.0h2.7v2.7h-2.7zM739.8 537.3h2.7v2.7h-2.7zM739.8 548.1h2.7v2.7h-2.7zM739.8 594.0h2.7v2.7h-2.7zM739.8 621.0h2.7v2.7h-2.7zM739.8 658.8h2.7v2.7h-2.7zM742.5 548.1h2.7v2.7h-2.7zM742.5 594.0h2.7v2.7h-2.7zM742.5 607.5h2.7v27.0h-2.7zM742.5 658.8h2.7v2.7h-2.7zM745.2 548.1h2.7v2.7h-2.7zM745.2 564.3h2.7v2.7h-2.7zM745.2 594.0h2.7v2.7h-2.7zM745.2 621.0h2.7v2.7h-2.7zM745.2 658.8h2.7v2.7h-2.7zM747.9 564.3h2.7v2.7h-2.7zM747.9 594.0h2.7v2.7h-2.7zM747.9 621.0h2.7v2.7h-2.7zM747.9 658.8h2.7v2.7h-2.7zM750.6 513.0h2.7v2.7h-2.7zM750.6 564.3h2.7v2.7h-2.7zM750.6 594.0h2.7v2.7h-2.7zM750.6 621.0h2.7v2.7h-2.7zM750.6 645.3h2.7v27.0h-2.7zM753.3 513.0h2.7v2.7h-2.7zM753.3 564.3h2.7v2.7h-2.7zM753.3 621.0h2.7v2.7h-2.7zM753.3 658.8h2.7v2.7h-2.7zM756.0 513.0h2.7v2.7h-2.7zM756.0 550.8h2.7v27.0h-2.7zM756.0 580.5h2.7v2.7h-2.7zM756.0 621.0h2.7v2.7h-2.7zM756.0 658.8h2.7v2.7h-2.7zM758.7 513.0h2.7v2.7h-2.7zM758.7 564.3h2.7v2.7h-2.7zM758.7 580.5h2.7v2.7h-2.7zM758.7 658.8h2.7v2.7h-2.7zM761.4 499.5h2.7v27.0h-2.7zM761.4 564.3h2.7v2.7h-2.7zM761.4 569.7h2.7v2.7h-2.7zM761.4 580.5h2.7v2.7h-2.7zM761.4 658.8h2.7v2.7h-2.7zM764.1 513.0h2.7v2.7h-2.7zM764.1 564.3h2.7v2.7h-2.7zM764.1 569.7h2.7v2.7h-2.7zM764.1 580.5h2.7v2.7h-2.7zM764.1 658.8h2.7v2.7h-2.7zM766.8 513.0h2.7v2.7h-2.7zM766.8 521.1h2.7v2.7h-2.7zM766.8 564.3h2.7v29.7h-2.7zM769.5 513.0h2.7v2.7h-2.7zM769.5 521.1h2.7v2.7h-2.7zM769.5 564.3h2.7v2.7h-2.7zM769.5 569.7h2.7v2.7h-2.7zM769.5 580.5h2.7v2.7h-2.7zM772.2 496.8h2.7v2.7h-2.7zM772.2 513.0h2.7v2.7h-2.7zM772.2 521.1h2.7v2.7h-2.7zM772.2 556.2h2.7v27.0h-2.7zM774.9 496.8h2.7v2.7h-2.7zM774.9 513.0h2.7v2.7h-2.7zM774.9 521.1h2.7v2.7h-2.7zM774.9 569.7h2.7v2.7h-2.7zM774.9 580.5h2.7v2.7h-2.7zM777.6 496.8h2.7v2.7h-2.7zM777.6 507.6h2.7v27.0h-2.7zM777.6 569.7h2.7v2.7h-2.7zM777.6 580.5h2.7v2.7h-2.7zM780.3 496.8h2.7v2.7h-2.7zM780.3 521.1h2.7v2.7h-2.7zM780.3 569.7h2.7v2.7h-2.7zM780.3 580.5h2.7v2.7h-2.7zM783.0 483.3h2.7v27.0h-2.7zM783.0 521.1h2.7v2.7h-2.7zM783.0 569.7h2.7v2.7h-2.7zM785.7 496.8h2.7v2.7h-2.7zM785.7 521.1h2.7v2.7h-2.7zM785.7 537.3h2.7v2.7h-2.7zM785.7 569.7h2.7v2.7h-2.7zM788.4 496.8h2.7v2.7h-2.7zM788.4 521.1h2.7v2.7h-2.7zM788.4 537.3h2.7v2.7h-2.7zM791.1 483.3h2.7v27.0h-2.7zM791.1 521.1h2.7v2.7h-2.7zM791.1 537.3h2.7v2.7h-2.7zM791.1 618.3h2.7v2.7h-2.7zM793.8 496.8h2.7v2.7h-2.7zM793.8 537.3h2.7v2.7h-2.7zM793.8 618.3h2.7v2.7h-2.7zM796.5 496.8h2.7v2.7h-2.7zM796.5 523.8h2.7v27.0h-2.7zM796.5 604.8h2.7v2.7h-2.7zM796.5 618.3h2.7v2.7h-2.7zM799.2 496.8h2.7v2.7h-2.7zM799.2 537.3h2.7v2.7h-2.7zM799.2 604.8h2.7v2.7h-2.7zM799.2 618.3h2.7v2.7h-2.7zM801.9 496.8h2.7v2.7h-2.7zM801.9 537.3h2.7v2.7h-2.7zM801.9 596.7h2.7v2.7h-2.7zM801.9 604.8h2.7v27.0h-2.7zM804.6 496.8h2.7v2.7h-2.7zM804.6 537.3h2.7v2.7h-2.7zM804.6 596.7h2.7v2.7h-2.7zM804.6 604.8h2.7v2.7h-2.7zM804.6 618.3h2.7v2.7h-2.7zM807.3 537.3h2.7v2.7h-2.7zM807.3 591.3h2.7v29.7h-2.7zM810.0 537.3h2.7v2.7h-2.7zM810.0 553.5h2.7v2.7h-2.7zM810.0 596.7h2.7v2.7h-2.7zM810.0 604.8h2.7v2.7h-2.7zM810.0 618.3h2.7v2.7h-2.7zM812.7 529.2h2.7v2.7h-2.7zM812.7 553.5h2.7v2.7h-2.7zM812.7 583.2h2.7v27.0h-2.7zM812.7 618.3h2.7v2.7h-2.7zM815.4 529.2h2.7v2.7h-2.7zM815.4 553.5h2.7v2.7h-2.7zM815.4 596.7h2.7v2.7h-2.7zM815.4 604.8h2.7v2.7h-2.7zM815.4 618.3h2.7v2.7h-2.7zM818.1 529.2h2.7v2.7h-2.7zM818.1 553.5h2.7v2.7h-2.7zM818.1 596.7h2.7v2.7h-2.7zM818.1 604.8h2.7v2.7h-2.7zM820.8 515.7h2.7v2.7h-2.7zM820.8 529.2h2.7v2.7h-2.7zM820.8 540.0h2.7v27.0h-2.7zM820.8 596.7h2.7v2.7h-2.7zM820.8 604.8h2.7v2.7h-2.7zM823.5 515.7h2.7v27.0h-2.7zM823.5 553.5h2.7v2.7h-2.7zM823.5 596.7h2.7v2.7h-2.7zM826.2 515.7h2.7v5.4h-2.7zM826.2 529.2h2.7v2.7h-2.7zM826.2 553.5h2.7v2.7h-2.7zM826.2 596.7h2.7v2.7h-2.7zM828.9 515.7h2.7v5.4h-2.7zM828.9 529.2h2.7v2.7h-2.7zM828.9 553.5h2.7v2.7h-2.7zM831.6 502.2h2.7v29.7h-2.7zM831.6 553.5h2.7v2.7h-2.7zM831.6 572.4h2.7v2.7h-2.7zM834.3 515.7h2.7v5.4h-2.7zM834.3 529.2h2.7v2.7h-2.7zM834.3 553.5h2.7v2.7h-2.7zM834.3 572.4h2.7v2.7h-2.7zM837.0 504.9h2.7v27.0h-2.7zM837.0 572.4h2.7v5.4h-2.7zM839.7 515.7h2.7v5.4h-2.7zM839.7 572.4h2.7v5.4h-2.7zM842.4 515.7h2.7v5.4h-2.7zM842.4 558.9h2.7v27.0h-2.7zM842.4 650.7h2.7v2.7h-2.7zM845.1 515.7h2.7v5.4h-2.7zM845.1 572.4h2.7v5.4h-2.7zM845.1 650.7h2.7v2.7h-2.7zM847.8 518.4h2.7v2.7h-2.7zM847.8 561.6h2.7v27.0h-2.7zM847.8 626.4h2.7v2.7h-2.7zM847.8 650.7h2.7v2.7h-2.7zM850.5 518.4h2.7v2.7h-2.7zM850.5 572.4h2.7v5.4h-2.7zM850.5 626.4h2.7v2.7h-2.7zM850.5 650.7h2.7v2.7h-2.7zM853.2 572.4h2.7v5.4h-2.7zM853.2 621.0h2.7v2.7h-2.7zM853.2 626.4h2.7v2.7h-2.7zM853.2 637.2h2.7v27.0h-2.7zM855.9 572.4h2.7v5.4h-2.7zM855.9 621.0h2.7v2.7h-2.7zM855.9 626.4h2.7v2.7h-2.7zM855.9 650.7h2.7v2.7h-2.7zM858.6 575.1h2.7v2.7h-2.7zM858.6 612.9h2.7v27.0h-2.7zM858.6 650.7h2.7v2.7h-2.7zM858.6 750.6h2.7v2.7h-2.7zM861.3 575.1h2.7v2.7h-2.7zM861.3 621.0h2.7v2.7h-2.7zM861.3 626.4h2.7v2.7h-2.7zM861.3 650.7h2.7v2.7h-2.7zM861.3 750.6h2.7v2.7h-2.7zM864.0 607.5h2.7v27.0h-2.7zM864.0 642.6h2.7v2.7h-2.7zM864.0 650.7h2.7v2.7h-2.7zM864.0 750.6h2.7v2.7h-2.7zM866.7 621.0h2.7v2.7h-2.7zM866.7 626.4h2.7v2.7h-2.7zM866.7 642.6h2.7v2.7h-2.7zM866.7 650.7h2.7v2.7h-2.7zM866.7 750.6h2.7v2.7h-2.7zM869.4 621.0h2.7v2.7h-2.7zM869.4 626.4h2.7v2.7h-2.7zM869.4 642.6h2.7v2.7h-2.7zM869.4 737.1h2.7v27.0h-2.7zM869.4 931.5h2.7v2.7h-2.7zM872.1 621.0h2.7v2.7h-2.7zM872.1 626.4h2.7v2.7h-2.7zM872.1 642.6h2.7v2.7h-2.7zM872.1 750.6h2.7v2.7h-2.7zM872.1 931.5h2.7v2.7h-2.7zM874.8 621.0h2.7v2.7h-2.7zM874.8 629.1h2.7v27.0h-2.7zM874.8 750.6h2.7v2.7h-2.7zM874.8 931.5h2.7v2.7h-2.7zM877.5 621.0h2.7v2.7h-2.7zM877.5 642.6h2.7v2.7h-2.7zM877.5 672.3h2.7v2.7h-2.7zM877.5 750.6h2.7v2.7h-2.7zM877.5 931.5h2.7v2.7h-2.7zM880.2 642.6h2.7v2.7h-2.7zM880.2 672.3h2.7v2.7h-2.7zM880.2 750.6h2.7v2.7h-2.7zM880.2 918.0h2.7v27.0h-2.7zM882.9 642.6h2.7v2.7h-2.7zM882.9 672.3h2.7v2.7h-2.7zM882.9 750.6h2.7v2.7h-2.7zM882.9 931.5h2.7v2.7h-2.7zM885.6 642.6h2.7v2.7h-2.7zM885.6 672.3h2.7v2.7h-2.7zM885.6 931.5h2.7v2.7h-2.7zM888.3 642.6h2.7v2.7h-2.7zM888.3 658.8h2.7v27.0h-2.7zM888.3 931.5h2.7v2.7h-2.7zM891.0 672.3h2.7v2.7h-2.7zM891.0 931.5h2.7v2.7h-2.7zM893.7 653.4h2.7v2.7h-2.7zM893.7 661.5h2.7v2.7h-2.7zM893.7 672.3h2.7v2.7h-2.7zM893.7 931.5h2.7v2.7h-2.7zM896.4 653.4h2.7v2.7h-2.7zM896.4 661.5h2.7v2.7h-2.7zM896.4 672.3h2.7v2.7h-2.7zM899.1 653.4h2.7v2.7h-2.7zM899.1 661.5h2.7v2.7h-2.7zM899.1 672.3h2.7v2.7h-2.7zM901.8 653.4h2.7v2.7h-2.7zM901.8 661.5h2.7v2.7h-2.7zM901.8 672.3h2.7v2.7h-2.7zM901.8 685.8h2.7v2.7h-2.7zM904.5 637.2h2.7v37.8h-2.7zM904.5 685.8h2.7v2.7h-2.7zM907.2 637.2h2.7v2.7h-2.7zM907.2 653.4h2.7v2.7h-2.7zM907.2 661.5h2.7v2.7h-2.7zM907.2 685.8h2.7v2.7h-2.7zM909.9 637.2h2.7v2.7h-2.7zM909.9 653.4h2.7v2.7h-2.7zM909.9 661.5h2.7v2.7h-2.7zM909.9 685.8h2.7v2.7h-2.7zM912.6 637.2h2.7v2.7h-2.7zM912.6 653.4h2.7v2.7h-2.7zM912.6 661.5h2.7v2.7h-2.7zM912.6 672.3h2.7v27.0h-2.7zM915.3 623.7h2.7v27.0h-2.7zM915.3 653.4h2.7v2.7h-2.7zM915.3 661.5h2.7v2.7h-2.7zM915.3 685.8h2.7v2.7h-2.7zM918.0 637.2h2.7v2.7h-2.7zM918.0 653.4h2.7v2.7h-2.7zM918.0 661.5h2.7v2.7h-2.7zM918.0 685.8h2.7v2.7h-2.7zM918.0 704.7h2.7v2.7h-2.7zM920.7 637.2h2.7v2.7h-2.7zM920.7 661.5h2.7v2.7h-2.7zM920.7 685.8h2.7v2.7h-2.7zM920.7 704.7h2.7v2.7h-2.7zM923.4 637.2h2.7v2.7h-2.7zM923.4 642.6h2.7v2.7h-2.7zM923.4 648.0h2.7v27.0h-2.7zM923.4 685.8h2.7v2.7h-2.7zM923.4 704.7h2.7v2.7h-2.7zM926.1 637.2h2.7v2.7h-2.7zM926.1 642.6h2.7v2.7h-2.7zM926.1 661.5h2.7v2.7h-2.7zM926.1 685.8h2.7v2.7h-2.7zM926.1 704.7h2.7v2.7h-2.7zM928.8 637.2h2.7v2.7h-2.7zM928.8 642.6h2.7v2.7h-2.7zM928.8 661.5h2.7v2.7h-2.7zM928.8 691.2h2.7v27.0h-2.7zM931.5 642.6h2.7v2.7h-2.7zM931.5 661.5h2.7v2.7h-2.7zM931.5 704.7h2.7v2.7h-2.7zM934.2 629.1h2.7v27.0h-2.7zM934.2 661.5h2.7v2.7h-2.7zM934.2 704.7h2.7v2.7h-2.7zM934.2 710.1h2.7v2.7h-2.7zM936.9 642.6h2.7v2.7h-2.7zM936.9 661.5h2.7v2.7h-2.7zM936.9 704.7h2.7v2.7h-2.7zM936.9 710.1h2.7v2.7h-2.7zM939.6 639.9h2.7v5.4h-2.7zM939.6 661.5h2.7v2.7h-2.7zM939.6 704.7h2.7v2.7h-2.7zM939.6 710.1h2.7v2.7h-2.7zM942.3 639.9h2.7v5.4h-2.7zM942.3 661.5h2.7v2.7h-2.7zM942.3 704.7h2.7v2.7h-2.7zM942.3 710.1h2.7v2.7h-2.7zM945.0 621.0h2.7v2.7h-2.7zM945.0 639.9h2.7v5.4h-2.7zM945.0 661.5h2.7v2.7h-2.7zM945.0 696.6h2.7v27.0h-2.7zM947.7 621.0h2.7v2.7h-2.7zM947.7 639.9h2.7v5.4h-2.7zM947.7 648.0h2.7v27.0h-2.7zM947.7 710.1h2.7v2.7h-2.7zM950.4 621.0h2.7v2.7h-2.7zM950.4 626.4h2.7v48.6h-2.7zM950.4 710.1h2.7v2.7h-2.7zM953.1 621.0h2.7v2.7h-2.7zM953.1 639.9h2.7v2.7h-2.7zM953.1 661.5h2.7v2.7h-2.7zM953.1 710.1h2.7v2.7h-2.7zM955.8 607.5h2.7v27.0h-2.7zM955.8 639.9h2.7v2.7h-2.7zM955.8 661.5h2.7v2.7h-2.7zM955.8 710.1h2.7v2.7h-2.7zM958.5 621.0h2.7v2.7h-2.7zM958.5 639.9h2.7v2.7h-2.7zM958.5 661.5h2.7v2.7h-2.7zM958.5 710.1h2.7v2.7h-2.7zM958.5 718.2h2.7v2.7h-2.7zM961.2 621.0h2.7v2.7h-2.7zM961.2 639.9h2.7v2.7h-2.7zM961.2 645.3h2.7v2.7h-2.7zM961.2 661.5h2.7v2.7h-2.7zM961.2 718.2h2.7v2.7h-2.7zM963.9 621.0h2.7v2.7h-2.7zM963.9 639.9h2.7v2.7h-2.7zM963.9 645.3h2.7v29.7h-2.7zM963.9 718.2h2.7v2.7h-2.7zM966.6 621.0h2.7v2.7h-2.7zM966.6 645.3h2.7v2.7h-2.7zM966.6 661.5h2.7v2.7h-2.7zM966.6 718.2h2.7v2.7h-2.7zM969.3 602.1h2.7v2.7h-2.7zM969.3 621.0h2.7v2.7h-2.7zM969.3 645.3h2.7v29.7h-2.7zM969.3 704.7h2.7v27.0h-2.7zM972.0 602.1h2.7v2.7h-2.7zM972.0 631.8h2.7v27.0h-2.7zM972.0 661.5h2.7v2.7h-2.7zM972.0 718.2h2.7v2.7h-2.7zM974.7 602.1h2.7v2.7h-2.7zM974.7 645.3h2.7v2.7h-2.7zM974.7 661.5h2.7v2.7h-2.7zM974.7 718.2h2.7v2.7h-2.7zM977.4 602.1h2.7v2.7h-2.7zM977.4 645.3h2.7v2.7h-2.7zM977.4 661.5h2.7v2.7h-2.7zM977.4 718.2h2.7v2.7h-2.7zM980.1 588.6h2.7v27.0h-2.7zM980.1 645.3h2.7v2.7h-2.7zM980.1 661.5h2.7v2.7h-2.7zM980.1 672.3h2.7v2.7h-2.7zM980.1 718.2h2.7v2.7h-2.7zM982.8 602.1h2.7v2.7h-2.7zM982.8 645.3h2.7v2.7h-2.7zM982.8 661.5h2.7v2.7h-2.7zM982.8 672.3h2.7v2.7h-2.7zM982.8 718.2h2.7v2.7h-2.7zM985.5 602.1h2.7v2.7h-2.7zM985.5 621.0h2.7v2.7h-2.7zM985.5 645.3h2.7v2.7h-2.7zM985.5 672.3h2.7v2.7h-2.7zM988.2 602.1h2.7v2.7h-2.7zM988.2 621.0h2.7v2.7h-2.7zM988.2 672.3h2.7v2.7h-2.7zM990.9 602.1h2.7v2.7h-2.7zM990.9 621.0h2.7v2.7h-2.7zM990.9 658.8h2.7v27.0h-2.7zM993.6 602.1h2.7v2.7h-2.7zM993.6 621.0h2.7v2.7h-2.7zM993.6 672.3h2.7v2.7h-2.7zM993.6 685.8h2.7v2.7h-2.7zM996.3 607.5h2.7v27.0h-2.7zM996.3 672.3h2.7v2.7h-2.7zM996.3 685.8h2.7v2.7h-2.7zM999.0 594.0h2.7v2.7h-2.7zM999.0 621.0h2.7v2.7h-2.7zM999.0 672.3h2.7v2.7h-2.7zM999.0 685.8h2.7v2.7h-2.7zM1001.7 594.0h2.7v2.7h-2.7zM1001.7 621.0h2.7v2.7h-2.7zM1001.7 672.3h2.7v2.7h-2.7zM1001.7 685.8h2.7v2.7h-2.7zM1004.4 594.0h2.7v2.7h-2.7zM1004.4 621.0h2.7v2.7h-2.7zM1004.4 648.0h2.7v2.7h-2.7zM1004.4 672.3h2.7v27.0h-2.7zM1007.1 594.0h2.7v2.7h-2.7zM1007.1 621.0h2.7v2.7h-2.7zM1007.1 648.0h2.7v2.7h-2.7zM1007.1 685.8h2.7v2.7h-2.7zM1009.8 580.5h2.7v27.0h-2.7zM1009.8 621.0h2.7v2.7h-2.7zM1009.8 648.0h2.7v2.7h-2.7zM1009.8 685.8h2.7v2.7h-2.7zM1009.8 761.4h2.7v2.7h-2.7zM1012.5 594.0h2.7v2.7h-2.7zM1012.5 648.0h2.7v2.7h-2.7zM1012.5 685.8h2.7v2.7h-2.7zM1012.5 761.4h2.7v2.7h-2.7zM1015.2 594.0h2.7v2.7h-2.7zM1015.2 634.5h2.7v27.0h-2.7zM1015.2 685.8h2.7v2.7h-2.7zM1015.2 761.4h2.7v2.7h-2.7zM1017.9 594.0h2.7v2.7h-2.7zM1017.9 648.0h2.7v2.7h-2.7zM1017.9 685.8h2.7v2.7h-2.7zM1017.9 761.4h2.7v2.7h-2.7zM1020.6 594.0h2.7v2.7h-2.7zM1020.6 648.0h2.7v2.7h-2.7zM1020.6 747.9h2.7v27.0h-2.7zM1023.3 594.0h2.7v2.7h-2.7zM1023.3 621.0h2.7v2.7h-2.7zM1023.3 648.0h2.7v2.7h-2.7zM1023.3 761.4h2.7v2.7h-2.7zM1026.0 621.0h2.7v2.7h-2.7zM1026.0 648.0h2.7v2.7h-2.7zM1026.0 761.4h2.7v2.7h-2.7zM1028.7 621.0h2.7v2.7h-2.7zM1028.7 642.6h2.7v2.7h-2.7zM1028.7 648.0h2.7v2.7h-2.7zM1028.7 761.4h2.7v2.7h-2.7zM1031.4 621.0h2.7v2.7h-2.7zM1031.4 642.6h2.7v2.7h-2.7zM1031.4 761.4h2.7v2.7h-2.7zM1034.1 607.5h2.7v27.0h-2.7zM1034.1 642.6h2.7v2.7h-2.7zM1034.1 664.2h2.7v2.7h-2.7zM1034.1 761.4h2.7v2.7h-2.7zM1036.8 621.0h2.7v2.7h-2.7zM1036.8 642.6h2.7v2.7h-2.7zM1036.8 664.2h2.7v2.7h-2.7zM1039.5 621.0h2.7v2.7h-2.7zM1039.5 629.1h2.7v27.0h-2.7zM1039.5 664.2h2.7v2.7h-2.7zM1039.5 691.2h2.7v2.7h-2.7zM1042.2 610.2h2.7v2.7h-2.7zM1042.2 621.0h2.7v2.7h-2.7zM1042.2 642.6h2.7v2.7h-2.7zM1042.2 664.2h2.7v2.7h-2.7zM1042.2 691.2h2.7v2.7h-2.7zM1044.9 610.2h2.7v2.7h-2.7zM1044.9 621.0h2.7v2.7h-2.7zM1044.9 642.6h2.7v2.7h-2.7zM1044.9 650.7h2.7v27.0h-2.7zM1044.9 691.2h2.7v2.7h-2.7zM1047.6 610.2h2.7v2.7h-2.7zM1047.6 621.0h2.7v2.7h-2.7zM1047.6 642.6h2.7v2.7h-2.7zM1047.6 664.2h2.7v2.7h-2.7zM1047.6 691.2h2.7v2.7h-2.7zM1050.3 610.2h2.7v2.7h-2.7zM1050.3 626.4h2.7v2.7h-2.7zM1050.3 642.6h2.7v2.7h-2.7zM1050.3 664.2h2.7v2.7h-2.7zM1050.3 677.7h2.7v27.0h-2.7zM1053.0 596.7h2.7v27.0h-2.7zM1053.0 626.4h2.7v2.7h-2.7zM1053.0 642.6h2.7v2.7h-2.7zM1053.0 664.2h2.7v2.7h-2.7zM1053.0 691.2h2.7v2.7h-2.7zM1055.7 610.2h2.7v2.7h-2.7zM1055.7 626.4h2.7v2.7h-2.7zM1055.7 664.2h2.7v2.7h-2.7zM1055.7 691.2h2.7v2.7h-2.7zM1055.7 704.7h2.7v2.7h-2.7zM1058.4 610.2h2.7v2.7h-2.7zM1058.4 615.6h2.7v2.7h-2.7zM1058.4 626.4h2.7v2.7h-2.7zM1058.4 664.2h2.7v2.7h-2.7zM1058.4 691.2h2.7v2.7h-2.7zM1058.4 704.7h2.7v2.7h-2.7zM1061.1 610.2h2.7v29.7h-2.7zM1061.1 691.2h2.7v2.7h-2.7zM1061.1 704.7h2.7v2.7h-2.7zM1063.8 610.2h2.7v2.7h-2.7zM1063.8 615.6h2.7v2.7h-2.7zM1063.8 626.4h2.7v2.7h-2.7zM1063.8 691.2h2.7v2.7h-2.7zM1063.8 704.7h2.7v2.7h-2.7zM1066.5 610.2h2.7v2.7h-2.7zM1066.5 615.6h2.7v2.7h-2.7zM1066.5 626.4h2.7v2.7h-2.7zM1066.5 691.2h2.7v27.0h-2.7zM1069.2 602.1h2.7v27.0h-2.7zM1069.2 704.7h2.7v2.7h-2.7zM1071.9 615.6h2.7v2.7h-2.7zM1071.9 626.4h2.7v2.7h-2.7zM1071.9 704.7h2.7v2.7h-2.7zM1074.6 615.6h2.7v2.7h-2.7zM1074.6 626.4h2.7v2.7h-2.7zM1074.6 704.7h2.7v2.7h-2.7zM1077.3 612.9h2.7v27.0h-2.7zM1077.3 685.8h2.7v2.7h-2.7zM1077.3 704.7h2.7v2.7h-2.7zM1080.0 615.6h2.7v2.7h-2.7zM1080.0 626.4h2.7v2.7h-2.7zM1080.0 685.8h2.7v2.7h-2.7zM1080.0 704.7h2.7v2.7h-2.7zM1082.7 615.6h2.7v2.7h-2.7zM1082.7 626.4h2.7v2.7h-2.7zM1082.7 685.8h2.7v2.7h-2.7zM1082.7 691.2h2.7v27.0h-2.7zM1085.4 626.4h2.7v2.7h-2.7zM1085.4 685.8h2.7v2.7h-2.7zM1085.4 704.7h2.7v2.7h-2.7zM1085.4 729.0h2.7v2.7h-2.7zM1088.1 626.4h2.7v2.7h-2.7zM1088.1 672.3h2.7v27.0h-2.7zM1088.1 704.7h2.7v2.7h-2.7zM1088.1 729.0h2.7v2.7h-2.7zM1090.8 626.4h2.7v2.7h-2.7zM1090.8 685.8h2.7v2.7h-2.7zM1090.8 704.7h2.7v2.7h-2.7zM1090.8 729.0h2.7v2.7h-2.7zM1093.5 685.8h2.7v2.7h-2.7zM1093.5 704.7h2.7v2.7h-2.7zM1093.5 729.0h2.7v2.7h-2.7zM1096.2 685.8h2.7v2.7h-2.7zM1096.2 696.6h2.7v2.7h-2.7zM1096.2 704.7h2.7v2.7h-2.7zM1096.2 715.5h2.7v27.0h-2.7zM1098.9 685.8h2.7v2.7h-2.7zM1098.9 696.6h2.7v2.7h-2.7zM1098.9 729.0h2.7v2.7h-2.7zM1101.6 594.0h2.7v2.7h-2.7zM1101.6 685.8h2.7v2.7h-2.7zM1101.6 696.6h2.7v2.7h-2.7zM1101.6 715.5h2.7v27.0h-2.7zM1104.3 594.0h2.7v2.7h-2.7zM1104.3 696.6h2.7v2.7h-2.7zM1104.3 729.0h2.7v2.7h-2.7zM1107.0 594.0h2.7v2.7h-2.7zM1107.0 683.1h2.7v27.0h-2.7zM1107.0 729.0h2.7v2.7h-2.7zM1109.7 594.0h2.7v2.7h-2.7zM1109.7 696.6h2.7v2.7h-2.7zM1109.7 729.0h2.7v2.7h-2.7zM1112.4 580.5h2.7v27.0h-2.7zM1112.4 696.6h2.7v2.7h-2.7zM1112.4 729.0h2.7v2.7h-2.7zM1115.1 594.0h2.7v2.7h-2.7zM1115.1 696.6h2.7v2.7h-2.7zM1115.1 729.0h2.7v2.7h-2.7zM1117.8 580.5h2.7v27.0h-2.7zM1117.8 696.6h2.7v2.7h-2.7zM1120.5 594.0h2.7v2.7h-2.7zM1120.5 648.0h2.7v2.7h-2.7zM1120.5 696.6h2.7v2.7h-2.7zM1123.2 594.0h2.7v2.7h-2.7zM1123.2 648.0h2.7v2.7h-2.7zM1125.9 594.0h2.7v2.7h-2.7zM1125.9 634.5h2.7v2.7h-2.7zM1125.9 648.0h2.7v2.7h-2.7zM1128.6 594.0h2.7v2.7h-2.7zM1128.6 634.5h2.7v2.7h-2.7zM1128.6 648.0h2.7v2.7h-2.7zM1131.3 594.0h2.7v2.7h-2.7zM1131.3 634.5h2.7v27.0h-2.7zM1131.3 664.2h2.7v2.7h-2.7zM1134.0 634.5h2.7v2.7h-2.7zM1134.0 648.0h2.7v2.7h-2.7zM1134.0 664.2h2.7v2.7h-2.7zM1136.7 621.0h2.7v29.7h-2.7zM1136.7 664.2h2.7v2.7h-2.7zM1136.7 737.1h2.7v2.7h-2.7zM1139.4 634.5h2.7v2.7h-2.7zM1139.4 648.0h2.7v2.7h-2.7zM1139.4 664.2h2.7v2.7h-2.7zM1139.4 737.1h2.7v2.7h-2.7zM1142.1 634.5h2.7v2.7h-2.7zM1142.1 648.0h2.7v29.7h-2.7zM1142.1 737.1h2.7v2.7h-2.7zM1144.8 634.5h2.7v2.7h-2.7zM1144.8 648.0h2.7v5.4h-2.7zM1144.8 664.2h2.7v2.7h-2.7zM1144.8 737.1h2.7v2.7h-2.7zM1147.5 634.5h2.7v2.7h-2.7zM1147.5 650.7h2.7v2.7h-2.7zM1147.5 664.2h2.7v2.7h-2.7zM1147.5 723.6h2.7v27.0h-2.7zM1150.2 634.5h2.7v2.7h-2.7zM1150.2 650.7h2.7v2.7h-2.7zM1150.2 664.2h2.7v2.7h-2.7zM1150.2 718.2h2.7v2.7h-2.7zM1150.2 737.1h2.7v2.7h-2.7zM1152.9 637.2h2.7v32.4h-2.7zM1152.9 718.2h2.7v2.7h-2.7zM1152.9 737.1h2.7v2.7h-2.7zM1155.6 650.7h2.7v2.7h-2.7zM1155.6 664.2h2.7v5.4h-2.7zM1155.6 718.2h2.7v2.7h-2.7zM1155.6 737.1h2.7v2.7h-2.7zM1158.3 650.7h2.7v2.7h-2.7zM1158.3 666.9h2.7v2.7h-2.7zM1158.3 718.2h2.7v2.7h-2.7zM1158.3 737.1h2.7v2.7h-2.7zM1161.0 650.7h2.7v2.7h-2.7zM1161.0 666.9h2.7v2.7h-2.7zM1161.0 704.7h2.7v27.0h-2.7zM1161.0 737.1h2.7v2.7h-2.7zM1163.7 650.7h2.7v29.7h-2.7zM1163.7 718.2h2.7v2.7h-2.7zM1166.4 650.7h2.7v2.7h-2.7zM1166.4 666.9h2.7v2.7h-2.7zM1166.4 718.2h2.7v2.7h-2.7zM1169.1 666.9h2.7v2.7h-2.7zM1169.1 718.2h2.7v2.7h-2.7zM1171.8 666.9h2.7v2.7h-2.7zM1171.8 685.8h2.7v2.7h-2.7zM1171.8 718.2h2.7v2.7h-2.7zM1174.5 666.9h2.7v2.7h-2.7zM1174.5 685.8h2.7v2.7h-2.7zM1174.5 718.2h2.7v2.7h-2.7zM1177.2 666.9h2.7v2.7h-2.7zM1177.2 685.8h2.7v2.7h-2.7zM1177.2 718.2h2.7v2.7h-2.7zM1177.2 761.4h2.7v2.7h-2.7zM1179.9 685.8h2.7v2.7h-2.7zM1179.9 718.2h2.7v2.7h-2.7zM1179.9 761.4h2.7v2.7h-2.7zM1182.6 672.3h2.7v27.0h-2.7zM1182.6 718.2h2.7v2.7h-2.7zM1182.6 761.4h2.7v2.7h-2.7zM1185.3 685.8h2.7v2.7h-2.7zM1185.3 718.2h2.7v2.7h-2.7zM1185.3 761.4h2.7v2.7h-2.7zM1188.0 685.8h2.7v2.7h-2.7zM1188.0 704.7h2.7v27.0h-2.7zM1188.0 747.9h2.7v27.0h-2.7zM1190.7 685.8h2.7v2.7h-2.7zM1190.7 704.7h2.7v2.7h-2.7zM1190.7 718.2h2.7v2.7h-2.7zM1190.7 761.4h2.7v2.7h-2.7zM1193.4 685.8h2.7v2.7h-2.7zM1193.4 704.7h2.7v2.7h-2.7zM1193.4 718.2h2.7v2.7h-2.7zM1193.4 761.4h2.7v2.7h-2.7zM1196.1 666.9h2.7v2.7h-2.7zM1196.1 685.8h2.7v2.7h-2.7zM1196.1 704.7h2.7v2.7h-2.7zM1196.1 718.2h2.7v2.7h-2.7zM1196.1 761.4h2.7v2.7h-2.7zM1198.8 666.9h2.7v2.7h-2.7zM1198.8 688.5h2.7v32.4h-2.7zM1198.8 761.4h2.7v2.7h-2.7zM1201.5 666.9h2.7v2.7h-2.7zM1201.5 688.5h2.7v2.7h-2.7zM1201.5 704.7h2.7v2.7h-2.7zM1201.5 718.2h2.7v2.7h-2.7zM1201.5 761.4h2.7v2.7h-2.7zM1204.2 666.9h2.7v2.7h-2.7zM1204.2 688.5h2.7v2.7h-2.7zM1204.2 704.7h2.7v2.7h-2.7zM1206.9 653.4h2.7v27.0h-2.7zM1206.9 688.5h2.7v2.7h-2.7zM1206.9 696.6h2.7v2.7h-2.7zM1206.9 704.7h2.7v2.7h-2.7zM1209.6 666.9h2.7v2.7h-2.7zM1209.6 675.0h2.7v27.0h-2.7zM1209.6 704.7h2.7v2.7h-2.7zM1212.3 650.7h2.7v2.7h-2.7zM1212.3 666.9h2.7v2.7h-2.7zM1212.3 688.5h2.7v2.7h-2.7zM1212.3 696.6h2.7v2.7h-2.7zM1212.3 704.7h2.7v2.7h-2.7zM1215.0 650.7h2.7v2.7h-2.7zM1215.0 666.9h2.7v2.7h-2.7zM1215.0 688.5h2.7v2.7h-2.7zM1215.0 696.6h2.7v2.7h-2.7zM1217.7 650.7h2.7v2.7h-2.7zM1217.7 666.9h2.7v2.7h-2.7zM1217.7 683.1h2.7v27.0h-2.7zM1220.4 650.7h2.7v2.7h-2.7zM1220.4 666.9h2.7v2.7h-2.7zM1220.4 688.5h2.7v2.7h-2.7zM1220.4 696.6h2.7v2.7h-2.7zM1223.1 637.2h2.7v27.0h-2.7zM1223.1 688.5h2.7v2.7h-2.7zM1223.1 696.6h2.7v2.7h-2.7zM1225.8 650.7h2.7v2.7h-2.7zM1225.8 675.0h2.7v27.0h-2.7zM1228.5 612.9h2.7v2.7h-2.7zM1228.5 650.7h2.7v2.7h-2.7zM1228.5 688.5h2.7v2.7h-2.7zM1228.5 696.6h2.7v2.7h-2.7zM1231.2 612.9h2.7v2.7h-2.7zM1231.2 650.7h2.7v2.7h-2.7zM1231.2 688.5h2.7v2.7h-2.7zM1231.2 696.6h2.7v2.7h-2.7zM1233.9 612.9h2.7v2.7h-2.7zM1233.9 650.7h2.7v2.7h-2.7zM1233.9 688.5h2.7v2.7h-2.7zM1236.6 612.9h2.7v2.7h-2.7zM1236.6 637.2h2.7v27.0h-2.7zM1236.6 680.4h2.7v2.7h-2.7zM1236.6 688.5h2.7v2.7h-2.7zM1239.3 599.4h2.7v27.0h-2.7zM1239.3 650.7h2.7v2.7h-2.7zM1239.3 680.4h2.7v2.7h-2.7zM1239.3 688.5h2.7v2.7h-2.7zM1239.3 729.0h2.7v2.7h-2.7zM1242.0 612.9h2.7v2.7h-2.7zM1242.0 650.7h2.7v2.7h-2.7zM1242.0 680.4h2.7v2.7h-2.7zM1242.0 729.0h2.7v2.7h-2.7zM1244.7 612.9h2.7v2.7h-2.7zM1244.7 650.7h2.7v2.7h-2.7zM1244.7 680.4h2.7v2.7h-2.7zM1244.7 729.0h2.7v2.7h-2.7zM1244.7 834.3h2.7v2.7h-2.7zM1247.4 612.9h2.7v2.7h-2.7zM1247.4 650.7h2.7v2.7h-2.7zM1247.4 666.9h2.7v27.0h-2.7zM1247.4 729.0h2.7v2.7h-2.7zM1247.4 834.3h2.7v2.7h-2.7zM1250.1 612.9h2.7v2.7h-2.7zM1250.1 650.7h2.7v2.7h-2.7zM1250.1 680.4h2.7v2.7h-2.7zM1250.1 715.5h2.7v27.0h-2.7zM1250.1 834.3h2.7v2.7h-2.7zM1252.8 612.9h2.7v2.7h-2.7zM1252.8 680.4h2.7v2.7h-2.7zM1252.8 729.0h2.7v5.4h-2.7zM1252.8 834.3h2.7v2.7h-2.7zM1255.5 680.4h2.7v2.7h-2.7zM1255.5 729.0h2.7v5.4h-2.7zM1255.5 764.1h2.7v2.7h-2.7zM1255.5 820.8h2.7v27.0h-2.7zM1258.2 680.4h2.7v2.7h-2.7zM1258.2 729.0h2.7v5.4h-2.7zM1258.2 764.1h2.7v2.7h-2.7zM1258.2 834.3h2.7v2.7h-2.7zM1260.9 680.4h2.7v2.7h-2.7zM1260.9 718.2h2.7v27.0h-2.7zM1260.9 764.1h2.7v2.7h-2.7zM1260.9 834.3h2.7v2.7h-2.7zM1263.6 729.0h2.7v5.4h-2.7zM1263.6 764.1h2.7v2.7h-2.7zM1263.6 780.3h2.7v2.7h-2.7zM1263.6 834.3h2.7v2.7h-2.7zM1266.3 731.7h2.7v2.7h-2.7zM1266.3 750.6h2.7v27.0h-2.7zM1266.3 780.3h2.7v2.7h-2.7zM1266.3 834.3h2.7v2.7h-2.7zM1269.0 731.7h2.7v2.7h-2.7zM1269.0 764.1h2.7v2.7h-2.7zM1269.0 780.3h2.7v2.7h-2.7zM1269.0 834.3h2.7v2.7h-2.7zM1271.7 731.7h2.7v2.7h-2.7zM1271.7 764.1h2.7v2.7h-2.7zM1271.7 780.3h2.7v2.7h-2.7zM1274.4 731.7h2.7v2.7h-2.7zM1274.4 764.1h2.7v29.7h-2.7zM1277.1 742.5h2.7v2.7h-2.7zM1277.1 764.1h2.7v2.7h-2.7zM1277.1 780.3h2.7v2.7h-2.7zM1279.8 742.5h2.7v2.7h-2.7zM1279.8 750.6h2.7v27.0h-2.7zM1279.8 780.3h2.7v2.7h-2.7zM1282.5 720.9h2.7v2.7h-2.7zM1282.5 742.5h2.7v2.7h-2.7zM1282.5 764.1h2.7v2.7h-2.7zM1282.5 780.3h2.7v2.7h-2.7zM1285.2 720.9h2.7v2.7h-2.7zM1285.2 742.5h2.7v2.7h-2.7zM1285.2 764.1h2.7v2.7h-2.7zM1285.2 780.3h2.7v2.7h-2.7zM1287.9 720.9h2.7v2.7h-2.7zM1287.9 729.0h2.7v48.6h-2.7zM1287.9 780.3h2.7v2.7h-2.7zM1290.6 720.9h2.7v2.7h-2.7zM1290.6 742.5h2.7v2.7h-2.7zM1290.6 764.1h2.7v2.7h-2.7zM1293.3 650.7h2.7v2.7h-2.7zM1293.3 707.4h2.7v27.0h-2.7zM1293.3 742.5h2.7v2.7h-2.7zM1293.3 764.1h2.7v2.7h-2.7zM1296.0 650.7h2.7v2.7h-2.7zM1296.0 720.9h2.7v2.7h-2.7zM1296.0 742.5h2.7v2.7h-2.7zM1296.0 764.1h2.7v2.7h-2.7zM1298.7 650.7h2.7v2.7h-2.7zM1298.7 656.1h2.7v2.7h-2.7zM1298.7 720.9h2.7v2.7h-2.7zM1298.7 742.5h2.7v2.7h-2.7zM1298.7 764.1h2.7v2.7h-2.7zM1301.4 650.7h2.7v2.7h-2.7zM1301.4 656.1h2.7v2.7h-2.7zM1301.4 720.9h2.7v2.7h-2.7zM1301.4 742.5h2.7v2.7h-2.7zM1301.4 764.1h2.7v2.7h-2.7zM1304.1 637.2h2.7v27.0h-2.7zM1304.1 720.9h2.7v2.7h-2.7zM1304.1 747.9h2.7v2.7h-2.7zM1306.8 650.7h2.7v2.7h-2.7zM1306.8 656.1h2.7v2.7h-2.7zM1306.8 720.9h2.7v2.7h-2.7zM1306.8 747.9h2.7v2.7h-2.7zM1309.5 642.6h2.7v27.0h-2.7zM1309.5 747.9h2.7v2.7h-2.7zM1309.5 777.6h2.7v2.7h-2.7zM1312.2 650.7h2.7v2.7h-2.7zM1312.2 656.1h2.7v2.7h-2.7zM1312.2 747.9h2.7v2.7h-2.7zM1312.2 777.6h2.7v2.7h-2.7zM1314.9 650.7h2.7v2.7h-2.7zM1314.9 656.1h2.7v2.7h-2.7zM1314.9 734.4h2.7v27.0h-2.7zM1314.9 777.6h2.7v2.7h-2.7zM1314.9 826.2h2.7v2.7h-2.7zM1317.6 650.7h2.7v2.7h-2.7zM1317.6 656.1h2.7v2.7h-2.7zM1317.6 747.9h2.7v2.7h-2.7zM1317.6 777.6h2.7v2.7h-2.7zM1317.6 826.2h2.7v2.7h-2.7zM1320.3 656.1h2.7v2.7h-2.7zM1320.3 747.9h2.7v2.7h-2.7zM1320.3 764.1h2.7v27.0h-2.7zM1320.3 826.2h2.7v2.7h-2.7zM1320.3 869.4h2.7v2.7h-2.7zM1323.0 656.1h2.7v2.7h-2.7zM1323.0 747.9h2.7v2.7h-2.7zM1323.0 777.6h2.7v2.7h-2.7zM1323.0 826.2h2.7v2.7h-2.7zM1323.0 837.0h2.7v2.7h-2.7zM1323.0 869.4h2.7v2.7h-2.7zM1325.7 747.9h2.7v2.7h-2.7zM1325.7 777.6h2.7v2.7h-2.7zM1325.7 812.7h2.7v27.0h-2.7zM1325.7 869.4h2.7v2.7h-2.7zM1328.4 747.9h2.7v2.7h-2.7zM1328.4 777.6h2.7v2.7h-2.7zM1328.4 826.2h2.7v2.7h-2.7zM1328.4 837.0h2.7v2.7h-2.7zM1328.4 869.4h2.7v2.7h-2.7zM1331.1 777.6h2.7v2.7h-2.7zM1331.1 826.2h2.7v2.7h-2.7zM1331.1 837.0h2.7v2.7h-2.7zM1331.1 855.9h2.7v27.0h-2.7zM1333.8 777.6h2.7v2.7h-2.7zM1333.8 823.5h2.7v27.0h-2.7zM1333.8 869.4h2.7v2.7h-2.7zM1336.5 826.2h2.7v2.7h-2.7zM1336.5 837.0h2.7v2.7h-2.7zM1336.5 869.4h2.7v2.7h-2.7zM1339.2 734.4h2.7v2.7h-2.7zM1339.2 826.2h2.7v2.7h-2.7zM1339.2 837.0h2.7v2.7h-2.7zM1339.2 869.4h2.7v2.7h-2.7zM1341.9 734.4h2.7v2.7h-2.7zM1341.9 826.2h2.7v2.7h-2.7zM1341.9 837.0h2.7v2.7h-2.7zM1341.9 869.4h2.7v2.7h-2.7zM1344.6 661.5h2.7v2.7h-2.7zM1344.6 734.4h2.7v2.7h-2.7zM1344.6 812.7h2.7v27.0h-2.7zM1344.6 869.4h2.7v2.7h-2.7zM1347.3 661.5h2.7v2.7h-2.7zM1347.3 734.4h2.7v2.7h-2.7zM1347.3 826.2h2.7v2.7h-2.7zM1347.3 837.0h2.7v2.7h-2.7zM1350.0 661.5h2.7v2.7h-2.7zM1350.0 669.6h2.7v2.7h-2.7zM1350.0 720.9h2.7v27.0h-2.7zM1350.0 826.2h2.7v2.7h-2.7zM1352.7 661.5h2.7v2.7h-2.7zM1352.7 669.6h2.7v2.7h-2.7zM1352.7 734.4h2.7v2.7h-2.7zM1352.7 826.2h2.7v2.7h-2.7zM1355.4 648.0h2.7v27.0h-2.7zM1355.4 707.4h2.7v2.7h-2.7zM1355.4 734.4h2.7v2.7h-2.7zM1355.4 826.2h2.7v2.7h-2.7zM1358.1 661.5h2.7v2.7h-2.7zM1358.1 669.6h2.7v2.7h-2.7zM1358.1 707.4h2.7v2.7h-2.7zM1358.1 734.4h2.7v2.7h-2.7zM1358.1 826.2h2.7v2.7h-2.7zM1360.8 656.1h2.7v27.0h-2.7zM1360.8 707.4h2.7v2.7h-2.7zM1360.8 734.4h2.7v2.7h-2.7zM1363.5 661.5h2.7v2.7h-2.7zM1363.5 669.6h2.7v2.7h-2.7zM1363.5 702.0h2.7v2.7h-2.7zM1363.5 707.4h2.7v2.7h-2.7zM1363.5 734.4h2.7v2.7h-2.7zM1366.2 661.5h2.7v2.7h-2.7zM1366.2 669.6h2.7v2.7h-2.7zM1366.2 693.9h2.7v27.0h-2.7zM1366.2 726.3h2.7v2.7h-2.7zM1368.9 661.5h2.7v2.7h-2.7zM1368.9 669.6h2.7v2.7h-2.7zM1368.9 702.0h2.7v2.7h-2.7zM1368.9 707.4h2.7v2.7h-2.7zM1368.9 726.3h2.7v2.7h-2.7zM1371.6 669.6h2.7v2.7h-2.7zM1371.6 702.0h2.7v2.7h-2.7zM1371.6 707.4h2.7v2.7h-2.7zM1371.6 726.3h2.7v2.7h-2.7zM1371.6 758.7h2.7v2.7h-2.7zM1374.3 669.6h2.7v2.7h-2.7zM1374.3 688.5h2.7v27.0h-2.7zM1374.3 726.3h2.7v2.7h-2.7zM1374.3 758.7h2.7v2.7h-2.7zM1377.0 702.0h2.7v2.7h-2.7zM1377.0 707.4h2.7v2.7h-2.7zM1377.0 712.8h2.7v27.0h-2.7zM1377.0 758.7h2.7v2.7h-2.7zM1379.7 702.0h2.7v2.7h-2.7zM1379.7 707.4h2.7v2.7h-2.7zM1379.7 726.3h2.7v2.7h-2.7zM1379.7 758.7h2.7v2.7h-2.7zM1379.7 834.3h2.7v2.7h-2.7zM1382.4 702.0h2.7v2.7h-2.7zM1382.4 726.3h2.7v2.7h-2.7zM1382.4 745.2h2.7v27.0h-2.7zM1382.4 834.3h2.7v2.7h-2.7zM1385.1 702.0h2.7v2.7h-2.7zM1385.1 726.3h2.7v2.7h-2.7zM1385.1 747.9h2.7v2.7h-2.7zM1385.1 758.7h2.7v2.7h-2.7zM1385.1 834.3h2.7v2.7h-2.7zM1387.8 702.0h2.7v2.7h-2.7zM1387.8 726.3h2.7v2.7h-2.7zM1387.8 747.9h2.7v2.7h-2.7zM1387.8 758.7h2.7v2.7h-2.7zM1387.8 834.3h2.7v2.7h-2.7zM1390.5 699.3h2.7v2.7h-2.7zM1390.5 726.3h2.7v2.7h-2.7zM1390.5 747.9h2.7v2.7h-2.7zM1390.5 758.7h2.7v2.7h-2.7zM1390.5 820.8h2.7v27.0h-2.7zM1393.2 699.3h2.7v2.7h-2.7zM1393.2 747.9h2.7v2.7h-2.7zM1393.2 758.7h2.7v2.7h-2.7zM1393.2 834.3h2.7v2.7h-2.7zM1395.9 699.3h2.7v2.7h-2.7zM1395.9 734.4h2.7v27.0h-2.7zM1395.9 834.3h2.7v2.7h-2.7zM1398.6 677.7h2.7v2.7h-2.7zM1398.6 699.3h2.7v2.7h-2.7zM1398.6 747.9h2.7v2.7h-2.7zM1398.6 834.3h2.7v2.7h-2.7zM1401.3 677.7h2.7v2.7h-2.7zM1401.3 685.8h2.7v27.0h-2.7zM1401.3 747.9h2.7v2.7h-2.7zM1401.3 834.3h2.7v2.7h-2.7zM1404.0 677.7h2.7v2.7h-2.7zM1404.0 699.3h2.7v2.7h-2.7zM1404.0 710.1h2.7v2.7h-2.7zM1404.0 747.9h2.7v2.7h-2.7zM1404.0 834.3h2.7v2.7h-2.7zM1406.7 677.7h2.7v2.7h-2.7zM1406.7 699.3h2.7v2.7h-2.7zM1406.7 710.1h2.7v2.7h-2.7zM1406.7 747.9h2.7v2.7h-2.7zM1409.4 664.2h2.7v27.0h-2.7zM1409.4 699.3h2.7v2.7h-2.7zM1409.4 710.1h2.7v2.7h-2.7zM1409.4 747.9h2.7v2.7h-2.7zM1412.1 677.7h2.7v2.7h-2.7zM1412.1 696.6h2.7v27.0h-2.7zM1414.8 677.7h2.7v2.7h-2.7zM1414.8 699.3h2.7v2.7h-2.7zM1414.8 710.1h2.7v2.7h-2.7zM1417.5 677.7h2.7v2.7h-2.7zM1417.5 688.5h2.7v2.7h-2.7zM1417.5 710.1h2.7v2.7h-2.7zM1420.2 677.7h2.7v2.7h-2.7zM1420.2 688.5h2.7v2.7h-2.7zM1420.2 710.1h2.7v2.7h-2.7zM1422.9 677.7h2.7v2.7h-2.7zM1422.9 688.5h2.7v2.7h-2.7zM1422.9 699.3h2.7v2.7h-2.7zM1422.9 710.1h2.7v2.7h-2.7zM1425.6 664.2h2.7v27.0h-2.7zM1425.6 699.3h2.7v2.7h-2.7zM1425.6 710.1h2.7v2.7h-2.7zM1428.3 675.0h2.7v27.0h-2.7zM1431.0 677.7h2.7v2.7h-2.7zM1431.0 688.5h2.7v2.7h-2.7zM1431.0 699.3h2.7v2.7h-2.7zM1433.7 658.8h2.7v2.7h-2.7zM1433.7 677.7h2.7v2.7h-2.7zM1433.7 685.8h2.7v27.0h-2.7zM1436.4 658.8h2.7v2.7h-2.7zM1436.4 677.7h2.7v2.7h-2.7zM1436.4 688.5h2.7v2.7h-2.7zM1436.4 699.3h2.7v2.7h-2.7zM1436.4 715.5h2.7v2.7h-2.7zM1439.1 658.8h2.7v2.7h-2.7zM1439.1 677.7h2.7v2.7h-2.7zM1439.1 688.5h2.7v2.7h-2.7zM1439.1 699.3h2.7v2.7h-2.7zM1439.1 715.5h2.7v2.7h-2.7zM1439.1 783.0h2.7v2.7h-2.7zM1441.8 658.8h2.7v2.7h-2.7zM1441.8 688.5h2.7v2.7h-2.7zM1441.8 699.3h2.7v2.7h-2.7zM1441.8 715.5h2.7v2.7h-2.7zM1441.8 783.0h2.7v2.7h-2.7zM1444.5 645.3h2.7v27.0h-2.7zM1444.5 683.1h2.7v2.7h-2.7zM1444.5 699.3h2.7v2.7h-2.7zM1444.5 715.5h2.7v2.7h-2.7zM1444.5 783.0h2.7v2.7h-2.7zM1447.2 658.8h2.7v2.7h-2.7zM1447.2 683.1h2.7v2.7h-2.7zM1447.2 699.3h2.7v29.7h-2.7zM1447.2 783.0h2.7v2.7h-2.7zM1449.9 658.8h2.7v2.7h-2.7zM1449.9 683.1h2.7v2.7h-2.7zM1449.9 715.5h2.7v2.7h-2.7zM1449.9 769.5h2.7v27.0h-2.7zM1452.6 658.8h2.7v2.7h-2.7zM1452.6 683.1h2.7v2.7h-2.7zM1452.6 715.5h2.7v2.7h-2.7zM1452.6 783.0h2.7v2.7h-2.7zM1455.3 658.8h2.7v2.7h-2.7zM1455.3 669.6h2.7v27.0h-2.7zM1455.3 715.5h2.7v2.7h-2.7zM1455.3 783.0h2.7v2.7h-2.7zM1458.0 658.8h2.7v2.7h-2.7zM1458.0 683.1h2.7v2.7h-2.7zM1458.0 715.5h2.7v2.7h-2.7zM1458.0 737.1h2.7v2.7h-2.7zM1458.0 783.0h2.7v2.7h-2.7zM1460.7 683.1h2.7v2.7h-2.7zM1460.7 715.5h2.7v2.7h-2.7zM1460.7 737.1h2.7v2.7h-2.7zM1460.7 783.0h2.7v2.7h-2.7zM1463.4 683.1h2.7v2.7h-2.7zM1463.4 715.5h2.7v2.7h-2.7zM1463.4 720.9h2.7v2.7h-2.7zM1463.4 737.1h2.7v2.7h-2.7zM1463.4 783.0h2.7v2.7h-2.7zM1466.1 683.1h2.7v2.7h-2.7zM1466.1 702.0h2.7v27.0h-2.7zM1466.1 737.1h2.7v2.7h-2.7zM1468.8 683.1h2.7v2.7h-2.7zM1468.8 715.5h2.7v2.7h-2.7zM1468.8 720.9h2.7v29.7h-2.7zM1471.5 715.5h2.7v2.7h-2.7zM1471.5 720.9h2.7v2.7h-2.7zM1471.5 737.1h2.7v2.7h-2.7zM1474.2 707.4h2.7v27.0h-2.7zM1474.2 737.1h2.7v2.7h-2.7zM1476.9 691.2h2.7v2.7h-2.7zM1476.9 715.5h2.7v8.1h-2.7zM1476.9 737.1h2.7v2.7h-2.7zM1479.6 691.2h2.7v2.7h-2.7zM1479.6 715.5h2.7v8.1h-2.7zM1479.6 737.1h2.7v2.7h-2.7zM1482.3 691.2h2.7v2.7h-2.7zM1482.3 718.2h2.7v5.4h-2.7zM1482.3 737.1h2.7v2.7h-2.7zM1485.0 691.2h2.7v2.7h-2.7zM1485.0 704.7h2.7v27.0h-2.7zM1487.7 677.7h2.7v27.0h-2.7zM1487.7 718.2h2.7v5.4h-2.7zM1490.4 691.2h2.7v2.7h-2.7zM1490.4 718.2h2.7v2.7h-2.7zM1493.1 691.2h2.7v2.7h-2.7zM1493.1 718.2h2.7v2.7h-2.7zM1495.8 691.2h2.7v2.7h-2.7zM1495.8 718.2h2.7v2.7h-2.7zM1498.5 691.2h2.7v2.7h-2.7zM1498.5 718.2h2.7v2.7h-2.7zM1501.2 691.2h2.7v2.7h-2.7z" fill="#FF0000" stroke="#FF0000" stroke-width="0.45"/>
<g font-family="Liberation Serif, Times New Roman, serif" font-size="57.5" fill="#262626">
<text x="199.9" y="72.8" text-anchor="end">-50</text>
<text x="199.9" y="177.8" text-anchor="end">-60</text>
<text x="199.9" y="286.4" text-anchor="end">-70</text>
<text x="199.9" y="392.2" text-anchor="end">-80</text>
<text x="199.9" y="498.3" text-anchor="end">-90</text>
<text x="199.9" y="605.4" text-anchor="end" textLength="103.1" lengthAdjust="spacingAndGlyphs">-100</text>
<text x="199.9" y="710.8" text-anchor="end" textLength="103.1" lengthAdjust="spacingAndGlyphs">-110</text>
<text x="199.9" y="816.2" text-anchor="end" textLength="103.1" lengthAdjust="spacingAndGlyphs">-120</text>
<text x="199.9" y="924.8" text-anchor="end" textLength="103.1" lengthAdjust="spacingAndGlyphs">-130</text>
<text x="199.9" y="1030.0" text-anchor="end" textLength="103.1" lengthAdjust="spacingAndGlyphs">-140</text>
<text x="308.6" y="1081.2" text-anchor="middle" textLength="88.3" lengthAdjust="spacingAndGlyphs">-0.6</text>
<text x="489.8" y="1081.2" text-anchor="middle" textLength="88.3" lengthAdjust="spacingAndGlyphs">-0.4</text>
<text x="671.9" y="1081.2" text-anchor="middle" textLength="88.3" lengthAdjust="spacingAndGlyphs">-0.2</text>
<text x="853.5" y="1081.2" text-anchor="middle">0</text>
<text x="1034.5" y="1081.2" text-anchor="middle">0.2</text>
<text x="1216.7" y="1081.2" text-anchor="middle">0.4</text>
<text x="1398.2" y="1081.2" text-anchor="middle">0.6</text>
</g>
<text x="854.0" y="1155.8" text-anchor="middle" font-family="Liberation Serif, serif" font-size="61.5" fill="#262626">Doppler frequency (Hz)</text>
<text transform="translate(71.8 531) rotate(-90)" text-anchor="middle" font-family="Liberation Serif, serif" font-size="61.5" fill="#262626">Output(dBm)</text>
<g font-family="Liberation Serif, serif" font-size="56" fill="#000">
<text x="243" y="139.8">ionospheric clutter</text>
<text x="647.3" y="236.2">injected target</text>
</g>
<path d="M380.7 313.2h2.7v10.8h-2.7zM383.4 318.6h2.7v35.1h-2.7zM386.1 321.3h2.7v32.4h-2.7zM388.8 324.0h2.7v24.3h-2.7zM391.5 321.3h2.7v24.3h-2.7zM394.2 310.5h2.7v10.8h-2.7zM394.2 326.7h2.7v16.2h-2.7zM396.9 302.4h2.7v8.1h-2.7zM396.9 324.0h2.7v13.5h-2.7zM399.6 291.6h2.7v10.8h-2.7zM399.6 324.0h2.7v10.8h-2.7zM402.3 280.8h2.7v10.8h-2.7zM402.3 324.0h2.7v5.4h-2.7zM405.0 272.7h2.7v8.1h-2.7zM405.0 321.3h2.7v5.4h-2.7zM407.7 261.9h2.7v10.8h-2.7zM407.7 321.3h2.7v2.7h-2.7zM410.4 253.8h2.7v8.1h-2.7zM413.1 243.0h2.7v10.8h-2.7zM415.8 234.9h2.7v8.1h-2.7zM418.5 224.1h2.7v10.8h-2.7zM421.2 216.0h2.7v8.1h-2.7zM423.9 205.2h2.7v10.8h-2.7zM426.6 194.4h2.7v10.8h-2.7zM429.3 186.3h2.7v8.1h-2.7zM432.0 175.5h2.7v10.8h-2.7zM434.7 167.4h2.7v8.1h-2.7zM437.4 156.6h2.7v10.8h-2.7zM440.1 151.2h2.7v5.4h-2.7z" fill="#000" stroke="#000" stroke-width="0.3"/>
<path d="M494.1 248.4h2.7v2.7h-2.7zM496.8 248.4h2.7v5.4h-2.7zM499.5 245.7h2.7v8.1h-2.7zM502.2 243.0h2.7v10.8h-2.7zM504.9 243.0h2.7v10.8h-2.7zM507.6 240.3h2.7v13.5h-2.7zM510.3 237.6h2.7v16.2h-2.7zM513.0 237.6h2.7v16.2h-2.7zM515.7 234.9h2.7v18.9h-2.7zM518.4 232.2h2.7v21.6h-2.7zM521.1 232.2h2.7v24.3h-2.7zM523.8 229.5h2.7v5.4h-2.7zM523.8 243.0h2.7v2.7h-2.7zM523.8 248.4h2.7v8.1h-2.7zM526.5 243.0h2.7v2.7h-2.7zM526.5 251.1h2.7v5.4h-2.7zM529.2 240.3h2.7v2.7h-2.7zM529.2 253.8h2.7v2.7h-2.7zM531.9 240.3h2.7v2.7h-2.7zM534.6 240.3h2.7v2.7h-2.7zM537.3 240.3h2.7v2.7h-2.7zM540.0 237.6h2.7v2.7h-2.7zM542.7 237.6h2.7v2.7h-2.7zM545.4 237.6h2.7v2.7h-2.7zM548.1 237.6h2.7v2.7h-2.7zM550.8 234.9h2.7v2.7h-2.7zM553.5 234.9h2.7v2.7h-2.7zM556.2 234.9h2.7v2.7h-2.7zM558.9 234.9h2.7v2.7h-2.7zM561.6 232.2h2.7v2.7h-2.7zM564.3 232.2h2.7v2.7h-2.7zM567.0 232.2h2.7v2.7h-2.7zM569.7 232.2h2.7v2.7h-2.7zM572.4 229.5h2.7v2.7h-2.7zM575.1 229.5h2.7v2.7h-2.7zM577.8 229.5h2.7v2.7h-2.7zM580.5 229.5h2.7v2.7h-2.7zM583.2 226.8h2.7v2.7h-2.7zM585.9 226.8h2.7v2.7h-2.7zM588.6 226.8h2.7v2.7h-2.7zM591.3 226.8h2.7v2.7h-2.7zM594.0 224.1h2.7v2.7h-2.7zM596.7 224.1h2.7v2.7h-2.7zM599.4 224.1h2.7v2.7h-2.7zM602.1 224.1h2.7v2.7h-2.7zM604.8 221.4h2.7v2.7h-2.7zM607.5 221.4h2.7v2.7h-2.7zM610.2 221.4h2.7v2.7h-2.7zM612.9 221.4h2.7v2.7h-2.7zM615.6 218.7h2.7v2.7h-2.7zM618.3 218.7h2.7v2.7h-2.7zM621.0 218.7h2.7v2.7h-2.7zM623.7 218.7h2.7v2.7h-2.7zM626.4 216.0h2.7v2.7h-2.7zM629.1 216.0h2.7v2.7h-2.7zM631.8 216.0h2.7v2.7h-2.7z" fill="#000" stroke="#000" stroke-width="0.3"/>
<rect x="1128.4" y="53.3" width="360.2" height="129" fill="#fff" stroke="#000" stroke-width="2.8"/>
<path d="M1138.8 85.5H1227" stroke="#0072BD" stroke-width="3"/>
<path d="M1138.8 146.7H1227M1184 137.2v25.7" stroke="#FF0000" stroke-width="3"/>
<g font-family="Liberation Serif, serif" font-size="52" fill="#000">
<text x="1234.5" y="104.3" textLength="98.9" lengthAdjust="spacingAndGlyphs">DBF</text>
<text x="1236.45" y="163.4" textLength="241.9" lengthAdjust="spacingAndGlyphs">VSSA-GSC</text>
</g>
</svg>
</body></html>
